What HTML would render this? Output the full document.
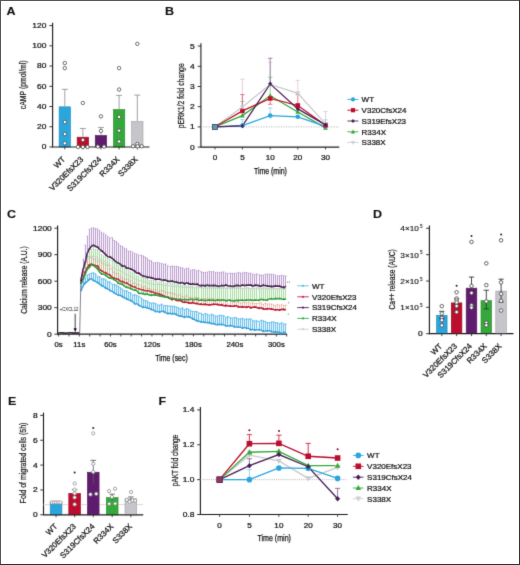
<!DOCTYPE html>
<html><head><meta charset="utf-8"><style>
html,body{margin:0;padding:0;background:#fff;}
#fig{position:relative;width:520px;height:565px;overflow:hidden;background:#fff;}
svg{position:absolute;left:0;top:0;}
text{font-family:"Liberation Sans", sans-serif;}
</style></head><body><div id="fig">
<svg width="520" height="565" viewBox="0 0 520 565">
<defs><filter id="bl" x="0" y="0" width="520" height="565" filterUnits="userSpaceOnUse"><feConvolveMatrix order="3" kernelMatrix="0.0113 0.0838 0.0113 0.0838 0.6193 0.0838 0.0113 0.0838 0.0113" divisor="1" edgeMode="duplicate" preserveAlpha="false"/></filter></defs>
<rect x="0" y="0" width="520" height="565" fill="#fff"/>
<g filter="url(#bl)">
<text x="6.6" y="15" font-size="11.2" text-anchor="start" font-weight="bold" fill="#111" stroke="#111" stroke-width="0.1" textLength="9.06" lengthAdjust="spacingAndGlyphs" >A</text>
<line x1="52.6" y1="22.8" x2="52.6" y2="147.5" stroke="#1e1e1e" stroke-width="1.1" />
<line x1="49.4" y1="147" x2="52.6" y2="147" stroke="#1e1e1e" stroke-width="0.9" />
<text x="46.4" y="149.4" font-size="7.8" text-anchor="end" font-weight="normal" fill="#111111" stroke="#111111" stroke-width="0.24" textLength="4.68" lengthAdjust="spacingAndGlyphs" >0</text>
<line x1="49.4" y1="126.77" x2="52.6" y2="126.77" stroke="#1e1e1e" stroke-width="0.9" />
<text x="46.4" y="129.17" font-size="7.8" text-anchor="end" font-weight="normal" fill="#111111" stroke="#111111" stroke-width="0.24" textLength="9.37" lengthAdjust="spacingAndGlyphs" >20</text>
<line x1="49.4" y1="106.53" x2="52.6" y2="106.53" stroke="#1e1e1e" stroke-width="0.9" />
<text x="46.4" y="108.93" font-size="7.8" text-anchor="end" font-weight="normal" fill="#111111" stroke="#111111" stroke-width="0.24" textLength="9.37" lengthAdjust="spacingAndGlyphs" >40</text>
<line x1="49.4" y1="86.3" x2="52.6" y2="86.3" stroke="#1e1e1e" stroke-width="0.9" />
<text x="46.4" y="88.7" font-size="7.8" text-anchor="end" font-weight="normal" fill="#111111" stroke="#111111" stroke-width="0.24" textLength="9.37" lengthAdjust="spacingAndGlyphs" >60</text>
<line x1="49.4" y1="66.07" x2="52.6" y2="66.07" stroke="#1e1e1e" stroke-width="0.9" />
<text x="46.4" y="68.47" font-size="7.8" text-anchor="end" font-weight="normal" fill="#111111" stroke="#111111" stroke-width="0.24" textLength="9.37" lengthAdjust="spacingAndGlyphs" >80</text>
<line x1="49.4" y1="45.83" x2="52.6" y2="45.83" stroke="#1e1e1e" stroke-width="0.9" />
<text x="46.4" y="48.23" font-size="7.8" text-anchor="end" font-weight="normal" fill="#111111" stroke="#111111" stroke-width="0.24" textLength="14.05" lengthAdjust="spacingAndGlyphs" >100</text>
<line x1="49.4" y1="25.6" x2="52.6" y2="25.6" stroke="#1e1e1e" stroke-width="0.9" />
<text x="46.4" y="28" font-size="7.8" text-anchor="end" font-weight="normal" fill="#111111" stroke="#111111" stroke-width="0.24" textLength="14.05" lengthAdjust="spacingAndGlyphs" >120</text>
<text transform="translate(26.3,84.8) rotate(-90)" font-size="9.3" text-anchor="middle" font-weight="normal" fill="#1c1c1c" stroke="#1c1c1c" stroke-width="0.24" textLength="48.8" lengthAdjust="spacingAndGlyphs" >cAMP (pmol/ml)</text>
<rect x="59.1" y="106.83" width="11.4" height="40.17" fill="#29a6dc" stroke="#2188b4" stroke-width="0.6"/>
<rect x="77.15" y="137.18" width="11.4" height="9.82" fill="#bb0a2e" stroke="#990825" stroke-width="0.6"/>
<rect x="95.25" y="135.46" width="11.4" height="11.54" fill="#5e1f6e" stroke="#4d195a" stroke-width="0.6"/>
<rect x="113.4" y="109.46" width="11.4" height="37.54" fill="#34a83a" stroke="#2a892f" stroke-width="0.6"/>
<rect x="131.6" y="121.4" width="11.4" height="25.6" fill="#c6c5cb" stroke="#a2a1a6" stroke-width="0.6"/>
<line x1="64.8" y1="106.53" x2="64.8" y2="89.33" stroke="#8a8a8a" stroke-width="0.8" />
<line x1="61.8" y1="89.33" x2="67.8" y2="89.33" stroke="#8a8a8a" stroke-width="0.8" />
<line x1="82.85" y1="136.88" x2="82.85" y2="128.49" stroke="#8a8a8a" stroke-width="0.8" />
<line x1="79.85" y1="128.49" x2="85.85" y2="128.49" stroke="#8a8a8a" stroke-width="0.8" />
<line x1="100.95" y1="135.16" x2="100.95" y2="127.47" stroke="#8a8a8a" stroke-width="0.8" />
<line x1="97.95" y1="127.47" x2="103.95" y2="127.47" stroke="#8a8a8a" stroke-width="0.8" />
<line x1="119.1" y1="109.16" x2="119.1" y2="95.41" stroke="#8a8a8a" stroke-width="0.8" />
<line x1="116.1" y1="95.41" x2="122.1" y2="95.41" stroke="#8a8a8a" stroke-width="0.8" />
<line x1="137.3" y1="121.1" x2="137.3" y2="95.1" stroke="#8a8a8a" stroke-width="0.8" />
<line x1="134.3" y1="95.1" x2="140.3" y2="95.1" stroke="#8a8a8a" stroke-width="0.8" />
<line x1="52.6" y1="147" x2="149.5" y2="147" stroke="#1e1e1e" stroke-width="1.2" />
<line x1="64.8" y1="147" x2="64.8" y2="149.4" stroke="#1e1e1e" stroke-width="0.8" />
<line x1="82.85" y1="147" x2="82.85" y2="149.4" stroke="#1e1e1e" stroke-width="0.8" />
<line x1="100.95" y1="147" x2="100.95" y2="149.4" stroke="#1e1e1e" stroke-width="0.8" />
<line x1="119.1" y1="147" x2="119.1" y2="149.4" stroke="#1e1e1e" stroke-width="0.8" />
<line x1="137.3" y1="147" x2="137.3" y2="149.4" stroke="#1e1e1e" stroke-width="0.8" />
<circle cx="64.8" cy="63.03" r="1.7" fill="#fff" stroke="#3a3a3a" stroke-width="0.8"/>
<circle cx="64.8" cy="68.09" r="1.7" fill="#fff" stroke="#3a3a3a" stroke-width="0.8"/>
<circle cx="64.8" cy="122.01" r="1.7" fill="#fff" stroke="#3a3a3a" stroke-width="0.8"/>
<circle cx="64.8" cy="134.05" r="1.7" fill="#fff" stroke="#3a3a3a" stroke-width="0.8"/>
<circle cx="64.8" cy="143.26" r="1.7" fill="#fff" stroke="#3a3a3a" stroke-width="0.8"/>
<circle cx="82.85" cy="102.99" r="1.7" fill="#fff" stroke="#3a3a3a" stroke-width="0.8"/>
<circle cx="82.85" cy="139.92" r="1.7" fill="#fff" stroke="#3a3a3a" stroke-width="0.8"/>
<circle cx="78.05" cy="147" r="1.7" fill="#fff" stroke="#3a3a3a" stroke-width="0.8"/>
<circle cx="82.85" cy="147" r="1.7" fill="#fff" stroke="#3a3a3a" stroke-width="0.8"/>
<circle cx="87.45" cy="147" r="1.7" fill="#fff" stroke="#3a3a3a" stroke-width="0.8"/>
<circle cx="100.95" cy="116.35" r="1.7" fill="#fff" stroke="#3a3a3a" stroke-width="0.8"/>
<circle cx="100.95" cy="130.91" r="1.7" fill="#fff" stroke="#3a3a3a" stroke-width="0.8"/>
<circle cx="97.85" cy="146.6" r="1.7" fill="#fff" stroke="#3a3a3a" stroke-width="0.8"/>
<circle cx="104.05" cy="146.6" r="1.7" fill="#fff" stroke="#3a3a3a" stroke-width="0.8"/>
<circle cx="119.1" cy="68.09" r="1.7" fill="#fff" stroke="#3a3a3a" stroke-width="0.8"/>
<circle cx="119.1" cy="89.54" r="1.7" fill="#fff" stroke="#3a3a3a" stroke-width="0.8"/>
<circle cx="119.1" cy="116.85" r="1.7" fill="#fff" stroke="#3a3a3a" stroke-width="0.8"/>
<circle cx="119.1" cy="130.61" r="1.7" fill="#fff" stroke="#3a3a3a" stroke-width="0.8"/>
<circle cx="119.1" cy="141.44" r="1.7" fill="#fff" stroke="#3a3a3a" stroke-width="0.8"/>
<circle cx="137.3" cy="43.81" r="1.7" fill="#fff" stroke="#3a3a3a" stroke-width="0.8"/>
<circle cx="137.3" cy="143.97" r="1.7" fill="#fff" stroke="#3a3a3a" stroke-width="0.8"/>
<circle cx="133.1" cy="146.29" r="1.7" fill="#fff" stroke="#3a3a3a" stroke-width="0.8"/>
<circle cx="137.6" cy="146.29" r="1.7" fill="#fff" stroke="#3a3a3a" stroke-width="0.8"/>
<circle cx="141.7" cy="146.29" r="1.7" fill="#fff" stroke="#3a3a3a" stroke-width="0.8"/>
<text transform="translate(65.8,159.9) rotate(-45)" font-size="8.0" text-anchor="end" font-weight="normal" fill="#111111" stroke="#111111" stroke-width="0.24" >WT</text>
<text transform="translate(83.85,159.9) rotate(-45)" font-size="8.0" text-anchor="end" font-weight="normal" fill="#111111" stroke="#111111" stroke-width="0.24" >V320EfsX23</text>
<text transform="translate(101.95,159.9) rotate(-45)" font-size="8.0" text-anchor="end" font-weight="normal" fill="#111111" stroke="#111111" stroke-width="0.24" >S319CfsX24</text>
<text transform="translate(120.1,159.9) rotate(-45)" font-size="8.0" text-anchor="end" font-weight="normal" fill="#111111" stroke="#111111" stroke-width="0.24" >R334X</text>
<text transform="translate(138.3,159.9) rotate(-45)" font-size="8.0" text-anchor="end" font-weight="normal" fill="#111111" stroke="#111111" stroke-width="0.24" >S338X</text>
<text x="165" y="15.4" font-size="11.2" text-anchor="start" font-weight="bold" fill="#111" stroke="#111" stroke-width="0.1" textLength="9.06" lengthAdjust="spacingAndGlyphs" >B</text>
<line x1="200.9" y1="43.3" x2="200.9" y2="147.6" stroke="#1e1e1e" stroke-width="1.1" />
<line x1="197.7" y1="147.1" x2="200.9" y2="147.1" stroke="#1e1e1e" stroke-width="0.9" />
<text x="194.8" y="149.5" font-size="7.8" text-anchor="end" font-weight="normal" fill="#111111" stroke="#111111" stroke-width="0.24" textLength="4.68" lengthAdjust="spacingAndGlyphs" >0</text>
<line x1="197.7" y1="126.9" x2="200.9" y2="126.9" stroke="#1e1e1e" stroke-width="0.9" />
<text x="194.8" y="129.3" font-size="7.8" text-anchor="end" font-weight="normal" fill="#111111" stroke="#111111" stroke-width="0.24" textLength="4.68" lengthAdjust="spacingAndGlyphs" >1</text>
<line x1="197.7" y1="106.7" x2="200.9" y2="106.7" stroke="#1e1e1e" stroke-width="0.9" />
<text x="194.8" y="109.1" font-size="7.8" text-anchor="end" font-weight="normal" fill="#111111" stroke="#111111" stroke-width="0.24" textLength="4.68" lengthAdjust="spacingAndGlyphs" >2</text>
<line x1="197.7" y1="86.5" x2="200.9" y2="86.5" stroke="#1e1e1e" stroke-width="0.9" />
<text x="194.8" y="88.9" font-size="7.8" text-anchor="end" font-weight="normal" fill="#111111" stroke="#111111" stroke-width="0.24" textLength="4.68" lengthAdjust="spacingAndGlyphs" >3</text>
<line x1="197.7" y1="66.3" x2="200.9" y2="66.3" stroke="#1e1e1e" stroke-width="0.9" />
<text x="194.8" y="68.7" font-size="7.8" text-anchor="end" font-weight="normal" fill="#111111" stroke="#111111" stroke-width="0.24" textLength="4.68" lengthAdjust="spacingAndGlyphs" >4</text>
<line x1="197.7" y1="46.1" x2="200.9" y2="46.1" stroke="#1e1e1e" stroke-width="0.9" />
<text x="194.8" y="48.5" font-size="7.8" text-anchor="end" font-weight="normal" fill="#111111" stroke="#111111" stroke-width="0.24" textLength="4.68" lengthAdjust="spacingAndGlyphs" >5</text>
<text transform="translate(184.3,95.75) rotate(-90)" font-size="9.2" text-anchor="middle" font-weight="normal" fill="#1c1c1c" stroke="#1c1c1c" stroke-width="0.24" textLength="65" lengthAdjust="spacingAndGlyphs" >pERK1/2 fold change</text>
<line x1="200.9" y1="126.9" x2="339" y2="126.9" stroke="#9a9a9a" stroke-width="0.7" stroke-dasharray="1.2,1.3"/>
<line x1="200.9" y1="147.1" x2="339.2" y2="147.1" stroke="#1e1e1e" stroke-width="1.2" />
<line x1="215" y1="147.1" x2="215" y2="149.5" stroke="#1e1e1e" stroke-width="0.8" />
<text x="215" y="160.2" font-size="7.8" text-anchor="middle" font-weight="normal" fill="#111111" stroke="#111111" stroke-width="0.24" textLength="4.51" lengthAdjust="spacingAndGlyphs" >0</text>
<line x1="242.4" y1="147.1" x2="242.4" y2="149.5" stroke="#1e1e1e" stroke-width="0.8" />
<text x="242.4" y="160.2" font-size="7.8" text-anchor="middle" font-weight="normal" fill="#111111" stroke="#111111" stroke-width="0.24" textLength="4.51" lengthAdjust="spacingAndGlyphs" >5</text>
<line x1="270.2" y1="147.1" x2="270.2" y2="149.5" stroke="#1e1e1e" stroke-width="0.8" />
<text x="270.2" y="160.2" font-size="7.8" text-anchor="middle" font-weight="normal" fill="#111111" stroke="#111111" stroke-width="0.24" textLength="9.02" lengthAdjust="spacingAndGlyphs" >10</text>
<line x1="297.8" y1="147.1" x2="297.8" y2="149.5" stroke="#1e1e1e" stroke-width="0.8" />
<text x="297.8" y="160.2" font-size="7.8" text-anchor="middle" font-weight="normal" fill="#111111" stroke="#111111" stroke-width="0.24" textLength="9.02" lengthAdjust="spacingAndGlyphs" >20</text>
<line x1="325.5" y1="147.1" x2="325.5" y2="149.5" stroke="#1e1e1e" stroke-width="0.8" />
<text x="325.5" y="160.2" font-size="7.8" text-anchor="middle" font-weight="normal" fill="#111111" stroke="#111111" stroke-width="0.24" textLength="9.02" lengthAdjust="spacingAndGlyphs" >30</text>
<text x="270.4" y="173.5" font-size="9.0" text-anchor="middle" font-weight="normal" fill="#111111" stroke="#111111" stroke-width="0.25" textLength="33" lengthAdjust="spacingAndGlyphs" >Time (min)</text>
<line x1="242.4" y1="107.1" x2="242.4" y2="79.23" stroke="#d9c9cf" stroke-width="0.8" />
<line x1="240.2" y1="79.23" x2="244.6" y2="79.23" stroke="#d9c9cf" stroke-width="0.8" />
<line x1="270.2" y1="84.48" x2="270.2" y2="62.26" stroke="#d9c9cf" stroke-width="0.8" />
<line x1="268" y1="62.26" x2="272.4" y2="62.26" stroke="#d9c9cf" stroke-width="0.8" />
<line x1="297.8" y1="93.37" x2="297.8" y2="80.44" stroke="#d9c9cf" stroke-width="0.8" />
<line x1="295.6" y1="80.44" x2="300" y2="80.44" stroke="#d9c9cf" stroke-width="0.8" />
<line x1="325.5" y1="123.87" x2="325.5" y2="111.55" stroke="#d9c9cf" stroke-width="0.8" />
<line x1="323.3" y1="111.55" x2="327.7" y2="111.55" stroke="#d9c9cf" stroke-width="0.8" />
<line x1="242.4" y1="115.59" x2="242.4" y2="101.45" stroke="#7ccc7c" stroke-width="0.8" />
<line x1="240.2" y1="101.45" x2="244.6" y2="101.45" stroke="#7ccc7c" stroke-width="0.8" />
<line x1="270.2" y1="95.79" x2="270.2" y2="77.21" stroke="#7ccc7c" stroke-width="0.8" />
<line x1="268" y1="77.21" x2="272.4" y2="77.21" stroke="#7ccc7c" stroke-width="0.8" />
<line x1="242.4" y1="125.49" x2="242.4" y2="119.63" stroke="#8fd0ee" stroke-width="0.8" />
<line x1="240.2" y1="119.63" x2="244.6" y2="119.63" stroke="#8fd0ee" stroke-width="0.8" />
<line x1="270.2" y1="115.59" x2="270.2" y2="107.91" stroke="#8fd0ee" stroke-width="0.8" />
<line x1="268" y1="107.91" x2="272.4" y2="107.91" stroke="#8fd0ee" stroke-width="0.8" />
<line x1="325.5" y1="126.29" x2="325.5" y2="119.83" stroke="#8fd0ee" stroke-width="0.8" />
<line x1="323.3" y1="119.83" x2="327.7" y2="119.83" stroke="#8fd0ee" stroke-width="0.8" />
<line x1="242.4" y1="110.94" x2="242.4" y2="94.58" stroke="#d9566f" stroke-width="0.8" />
<line x1="240.2" y1="94.58" x2="244.6" y2="94.58" stroke="#d9566f" stroke-width="0.8" />
<line x1="270.2" y1="98.42" x2="270.2" y2="104.28" stroke="#d9566f" stroke-width="0.8" />
<line x1="268" y1="104.28" x2="272.4" y2="104.28" stroke="#d9566f" stroke-width="0.8" />
<line x1="297.8" y1="105.49" x2="297.8" y2="94.58" stroke="#d9566f" stroke-width="0.8" />
<line x1="295.6" y1="94.58" x2="300" y2="94.58" stroke="#d9566f" stroke-width="0.8" />
<line x1="270.2" y1="83.87" x2="270.2" y2="58.22" stroke="#8a6a94" stroke-width="0.8" />
<line x1="268" y1="58.22" x2="272.4" y2="58.22" stroke="#8a6a94" stroke-width="0.8" />
<polyline points="215,126.9 242.4,107.1 270.2,84.48 297.8,93.37 325.5,123.87" fill="none" stroke="#c9c9cf" stroke-width="1.3"/>
<polyline points="215,126.9 242.4,115.59 270.2,95.79 297.8,111.95 325.5,127.91" fill="none" stroke="#34a83a" stroke-width="1.3"/>
<polyline points="215,126.9 242.4,125.49 270.2,115.59 297.8,116.8 325.5,126.29" fill="none" stroke="#29a6dc" stroke-width="1.3"/>
<polyline points="215,126.9 242.4,110.94 270.2,98.42 297.8,105.49 325.5,125.28" fill="none" stroke="#bb0a2e" stroke-width="1.3"/>
<polyline points="215,126.9 242.4,125.89 270.2,83.87 297.8,108.92 325.5,124.88" fill="none" stroke="#4d1f58" stroke-width="1.3"/>
<polygon points="215,129.42 217.4,125.1 212.6,125.1" fill="#c9c9cf"/>
<polygon points="242.4,109.62 244.8,105.3 240,105.3" fill="#c9c9cf"/>
<polygon points="270.2,87 272.6,82.68 267.8,82.68" fill="#c9c9cf"/>
<polygon points="297.8,95.89 300.2,91.57 295.4,91.57" fill="#c9c9cf"/>
<polygon points="325.5,126.39 327.9,122.07 323.1,122.07" fill="#c9c9cf"/>
<polygon points="215,124.38 217.4,128.7 212.6,128.7" fill="#34a83a"/>
<polygon points="242.4,113.07 244.8,117.39 240,117.39" fill="#34a83a"/>
<polygon points="270.2,93.27 272.6,97.59 267.8,97.59" fill="#34a83a"/>
<polygon points="297.8,109.43 300.2,113.75 295.4,113.75" fill="#34a83a"/>
<polygon points="325.5,125.39 327.9,129.71 323.1,129.71" fill="#34a83a"/>
<circle cx="215" cy="126.9" r="2.3" fill="#29a6dc"/>
<circle cx="242.4" cy="125.49" r="2.3" fill="#29a6dc"/>
<circle cx="270.2" cy="115.59" r="2.3" fill="#29a6dc"/>
<circle cx="297.8" cy="116.8" r="2.3" fill="#29a6dc"/>
<circle cx="325.5" cy="126.29" r="2.3" fill="#29a6dc"/>
<rect x="212.7" y="124.6" width="4.6" height="4.6" fill="#bb0a2e"/>
<rect x="240.1" y="108.64" width="4.6" height="4.6" fill="#bb0a2e"/>
<rect x="267.9" y="96.12" width="4.6" height="4.6" fill="#bb0a2e"/>
<rect x="295.5" y="103.19" width="4.6" height="4.6" fill="#bb0a2e"/>
<rect x="323.2" y="122.98" width="4.6" height="4.6" fill="#bb0a2e"/>
<polygon points="215,124.6 217.07,126.9 215,129.2 212.93,126.9" fill="#4d1f58"/>
<polygon points="242.4,123.59 244.47,125.89 242.4,128.19 240.33,125.89" fill="#4d1f58"/>
<polygon points="270.2,81.57 272.27,83.87 270.2,86.17 268.13,83.87" fill="#4d1f58"/>
<polygon points="297.8,106.62 299.87,108.92 297.8,111.22 295.73,108.92" fill="#4d1f58"/>
<polygon points="325.5,122.58 327.57,124.88 325.5,127.18 323.43,124.88" fill="#4d1f58"/>
<rect x="212.4" y="124.4" width="5.2" height="5" fill="#5a9ab4" stroke="#3b3f5e" stroke-width="0.8"/>
<line x1="347.4" y1="99.4" x2="358.4" y2="99.4" stroke="#29a6dc" stroke-width="0.9" />
<circle cx="353" cy="99.4" r="2.1" fill="#29a6dc"/>
<text x="361.6" y="102.2" font-size="8.0" text-anchor="start" font-weight="normal" fill="#111111" stroke="#111111" stroke-width="0.24" >WT</text>
<line x1="347.4" y1="110.2" x2="358.4" y2="110.2" stroke="#bb0a2e" stroke-width="0.9" />
<rect x="350.9" y="108.1" width="4.2" height="4.2" fill="#bb0a2e"/>
<text x="361.6" y="113" font-size="8.0" text-anchor="start" font-weight="normal" fill="#111111" stroke="#111111" stroke-width="0.24" >V320CfsX24</text>
<line x1="347.4" y1="121" x2="358.4" y2="121" stroke="#4d1f58" stroke-width="0.9" />
<polygon points="353,118.9 354.89,121 353,123.1 351.11,121" fill="#4d1f58"/>
<text x="361.6" y="123.8" font-size="8.0" text-anchor="start" font-weight="normal" fill="#111111" stroke="#111111" stroke-width="0.24" >S319EfsX23</text>
<line x1="347.4" y1="131.8" x2="358.4" y2="131.8" stroke="#34a83a" stroke-width="0.9" />
<polygon points="353,129.59 355.1,133.38 350.9,133.38" fill="#34a83a"/>
<text x="361.6" y="134.6" font-size="8.0" text-anchor="start" font-weight="normal" fill="#111111" stroke="#111111" stroke-width="0.24" >R334X</text>
<line x1="347.4" y1="142.5" x2="358.4" y2="142.5" stroke="#cfcfd4" stroke-width="0.9" />
<polygon points="353,144.71 355.1,140.93 350.9,140.93" fill="#cfcfd4"/>
<text x="361.6" y="145.3" font-size="8.0" text-anchor="start" font-weight="normal" fill="#111111" stroke="#111111" stroke-width="0.24" >S338X</text>
<text x="6.9" y="218" font-size="11.2" text-anchor="start" font-weight="bold" fill="#111" stroke="#111" stroke-width="0.1" textLength="9.06" lengthAdjust="spacingAndGlyphs" >C</text>
<line x1="57.6" y1="225.4" x2="57.6" y2="334.7" stroke="#1e1e1e" stroke-width="1.1" />
<line x1="54.4" y1="334.2" x2="57.6" y2="334.2" stroke="#1e1e1e" stroke-width="0.9" />
<text x="51.8" y="336.6" font-size="7.8" text-anchor="end" font-weight="normal" fill="#111111" stroke="#111111" stroke-width="0.24" textLength="4.68" lengthAdjust="spacingAndGlyphs" >0</text>
<line x1="54.4" y1="307.7" x2="57.6" y2="307.7" stroke="#1e1e1e" stroke-width="0.9" />
<text x="51.8" y="310.1" font-size="7.8" text-anchor="end" font-weight="normal" fill="#111111" stroke="#111111" stroke-width="0.24" textLength="14.05" lengthAdjust="spacingAndGlyphs" >300</text>
<line x1="54.4" y1="281.2" x2="57.6" y2="281.2" stroke="#1e1e1e" stroke-width="0.9" />
<text x="51.8" y="283.6" font-size="7.8" text-anchor="end" font-weight="normal" fill="#111111" stroke="#111111" stroke-width="0.24" textLength="14.05" lengthAdjust="spacingAndGlyphs" >600</text>
<line x1="54.4" y1="254.7" x2="57.6" y2="254.7" stroke="#1e1e1e" stroke-width="0.9" />
<text x="51.8" y="257.1" font-size="7.8" text-anchor="end" font-weight="normal" fill="#111111" stroke="#111111" stroke-width="0.24" textLength="14.05" lengthAdjust="spacingAndGlyphs" >900</text>
<line x1="54.4" y1="228.2" x2="57.6" y2="228.2" stroke="#1e1e1e" stroke-width="0.9" />
<text x="51.8" y="230.6" font-size="7.8" text-anchor="end" font-weight="normal" fill="#111111" stroke="#111111" stroke-width="0.24" textLength="18.74" lengthAdjust="spacingAndGlyphs" >1200</text>
<text transform="translate(26.9,280) rotate(-90)" font-size="9.2" text-anchor="middle" font-weight="normal" fill="#1c1c1c" stroke="#1c1c1c" stroke-width="0.24" textLength="67.6" lengthAdjust="spacingAndGlyphs" >Calcium release (A.U.)</text>
<line x1="57.6" y1="334.2" x2="287" y2="334.2" stroke="#1e1e1e" stroke-width="1.2" />
<line x1="58.6" y1="334.2" x2="58.6" y2="336.5" stroke="#1e1e1e" stroke-width="0.8" />
<line x1="68.97" y1="334.2" x2="68.97" y2="336.5" stroke="#1e1e1e" stroke-width="0.8" />
<line x1="79.34" y1="334.2" x2="79.34" y2="336.5" stroke="#1e1e1e" stroke-width="0.8" />
<line x1="89.71" y1="334.2" x2="89.71" y2="336.5" stroke="#1e1e1e" stroke-width="0.8" />
<line x1="100.08" y1="334.2" x2="100.08" y2="336.5" stroke="#1e1e1e" stroke-width="0.8" />
<line x1="110.45" y1="334.2" x2="110.45" y2="336.5" stroke="#1e1e1e" stroke-width="0.8" />
<line x1="120.82" y1="334.2" x2="120.82" y2="336.5" stroke="#1e1e1e" stroke-width="0.8" />
<line x1="131.19" y1="334.2" x2="131.19" y2="336.5" stroke="#1e1e1e" stroke-width="0.8" />
<line x1="141.56" y1="334.2" x2="141.56" y2="336.5" stroke="#1e1e1e" stroke-width="0.8" />
<line x1="151.93" y1="334.2" x2="151.93" y2="336.5" stroke="#1e1e1e" stroke-width="0.8" />
<line x1="162.3" y1="334.2" x2="162.3" y2="336.5" stroke="#1e1e1e" stroke-width="0.8" />
<line x1="172.67" y1="334.2" x2="172.67" y2="336.5" stroke="#1e1e1e" stroke-width="0.8" />
<line x1="183.04" y1="334.2" x2="183.04" y2="336.5" stroke="#1e1e1e" stroke-width="0.8" />
<line x1="193.41" y1="334.2" x2="193.41" y2="336.5" stroke="#1e1e1e" stroke-width="0.8" />
<line x1="203.78" y1="334.2" x2="203.78" y2="336.5" stroke="#1e1e1e" stroke-width="0.8" />
<line x1="214.15" y1="334.2" x2="214.15" y2="336.5" stroke="#1e1e1e" stroke-width="0.8" />
<line x1="224.52" y1="334.2" x2="224.52" y2="336.5" stroke="#1e1e1e" stroke-width="0.8" />
<line x1="234.89" y1="334.2" x2="234.89" y2="336.5" stroke="#1e1e1e" stroke-width="0.8" />
<line x1="245.26" y1="334.2" x2="245.26" y2="336.5" stroke="#1e1e1e" stroke-width="0.8" />
<line x1="255.63" y1="334.2" x2="255.63" y2="336.5" stroke="#1e1e1e" stroke-width="0.8" />
<line x1="266" y1="334.2" x2="266" y2="336.5" stroke="#1e1e1e" stroke-width="0.8" />
<line x1="276.37" y1="334.2" x2="276.37" y2="336.5" stroke="#1e1e1e" stroke-width="0.8" />
<line x1="286.74" y1="334.2" x2="286.74" y2="336.5" stroke="#1e1e1e" stroke-width="0.8" />
<text x="58.6" y="347.3" font-size="7.8" text-anchor="middle" font-weight="normal" fill="#111111" stroke="#111111" stroke-width="0.24" textLength="8.24" lengthAdjust="spacingAndGlyphs" >0s</text>
<text x="79.34" y="347.3" font-size="7.8" text-anchor="middle" font-weight="normal" fill="#111111" stroke="#111111" stroke-width="0.24" textLength="12" lengthAdjust="spacingAndGlyphs" >11s</text>
<text x="110.45" y="347.3" font-size="7.8" text-anchor="middle" font-weight="normal" fill="#111111" stroke="#111111" stroke-width="0.24" textLength="12.58" lengthAdjust="spacingAndGlyphs" >60s</text>
<text x="151.93" y="347.3" font-size="7.8" text-anchor="middle" font-weight="normal" fill="#111111" stroke="#111111" stroke-width="0.24" textLength="16.91" lengthAdjust="spacingAndGlyphs" >120s</text>
<text x="193.41" y="347.3" font-size="7.8" text-anchor="middle" font-weight="normal" fill="#111111" stroke="#111111" stroke-width="0.24" textLength="16.91" lengthAdjust="spacingAndGlyphs" >180s</text>
<text x="234.89" y="347.3" font-size="7.8" text-anchor="middle" font-weight="normal" fill="#111111" stroke="#111111" stroke-width="0.24" textLength="16.91" lengthAdjust="spacingAndGlyphs" >240s</text>
<text x="276.37" y="347.3" font-size="7.8" text-anchor="middle" font-weight="normal" fill="#111111" stroke="#111111" stroke-width="0.24" textLength="16.91" lengthAdjust="spacingAndGlyphs" >300s</text>
<text x="171.5" y="360.7" font-size="9.0" text-anchor="middle" font-weight="normal" fill="#111111" stroke="#111111" stroke-width="0.25" textLength="32.5" lengthAdjust="spacingAndGlyphs" >Time (sec)</text>
<polygon points="81,282.42 83.07,259.33 85.14,245.15 87.21,236.19 89.28,229.35 91.35,228.21 93.42,227.77 95.49,228.59 97.56,228.87 99.63,230.58 101.7,232.34 103.77,233.22 105.84,234.76 107.91,236.46 109.98,237.84 112.05,237.82 114.12,240.38 116.19,241.35 118.26,243.33 120.33,245.64 122.4,246.54 124.47,248.12 126.54,248.93 128.61,251.09 130.68,251.08 132.75,252.11 134.82,253.39 136.89,254.09 138.96,255.11 141.03,255.29 143.1,255.89 145.17,257.06 147.24,258.37 149.31,260.25 151.38,260.77 153.45,262.75 155.52,262.73 157.59,262.34 159.66,262.98 161.73,263.59 163.8,264.06 165.87,264.07 167.94,265.82 170.01,266.52 172.08,266.01 174.15,266.49 176.22,266.22 178.29,266.69 180.36,267.57 182.43,267.81 184.5,269.11 186.57,268.19 188.64,268.23 190.71,270.19 192.78,269.77 194.85,269.59 196.92,270.82 198.99,270.4 201.06,271.59 203.13,272.48 205.2,272.35 207.27,272.13 209.34,271.42 211.41,271.69 213.48,271.41 215.55,272.57 217.62,272.22 219.69,272.74 221.76,272.01 223.83,271.9 225.9,273.03 227.97,273.42 230.04,273.26 232.11,273.26 234.18,273.35 236.25,273.29 238.32,272.45 240.39,273.05 242.46,272.87 244.53,272.4 246.6,272.51 248.67,273.07 250.74,273.15 252.81,274.04 254.88,274.63 256.95,273.83 259.02,274.82 261.09,275.02 263.16,275.08 265.23,274.13 267.3,273.98 269.37,274.1 271.44,274.16 273.51,274.29 275.58,275.16 277.65,275.77 279.72,275.77 281.79,275.23 283.86,275.66 285.93,276.04 285.93,286.24 283.86,287.4 281.79,287.15 279.72,286.18 277.65,286.14 275.58,285.79 273.51,286.6 271.44,286.4 269.37,286.41 267.3,285.88 265.23,285.72 263.16,285.13 261.09,286.39 259.02,285.63 256.95,285.4 254.88,285.21 252.81,286.23 250.74,285.09 248.67,285.18 246.6,285.25 244.53,285.7 242.46,284.99 240.39,286.01 238.32,285.54 236.25,285.36 234.18,286.21 232.11,286.47 230.04,285.9 227.97,285.98 225.9,284.94 223.83,285.89 221.76,285.57 219.69,286.31 217.62,286.1 215.55,285.44 213.48,285.6 211.41,285.58 209.34,285.7 207.27,285.05 205.2,285.9 203.13,285.38 201.06,285.64 198.99,285.34 196.92,284.06 194.85,284.51 192.78,283.71 190.71,284.39 188.64,283.56 186.57,282.79 184.5,283.88 182.43,282.49 180.36,282.91 178.29,282.85 176.22,282 174.15,281.79 172.08,280.97 170.01,281.4 167.94,281.25 165.87,280.15 163.8,280.09 161.73,279.99 159.66,279.26 157.59,279.2 155.52,279.35 153.45,278.35 151.38,277.86 149.31,277.28 147.24,277.34 145.17,276.35 143.1,276.06 141.03,274.92 138.96,273.22 136.89,273.17 134.82,271.31 132.75,269.98 130.68,269 128.61,268.21 126.54,268.09 124.47,265.74 122.4,266.18 120.33,264.2 118.26,262.96 116.19,261.93 114.12,260.06 112.05,258.2 109.98,256.83 107.91,256.74 105.84,254.72 103.77,252.59 101.7,250.91 99.63,249.42 97.56,247.06 95.49,246.41 93.42,245.28 91.35,246.17 89.28,249.22 87.21,253.49 85.14,262.74 83.07,269.45 81,280.72" fill="#f8f3fa" stroke="none"/>
<path d="M81.5 280.72V282.42M83.5 269.45V259.33M85.5 262.74V245.15M87.5 253.49V236.19M89.5 249.22V229.35M91.5 246.17V228.21M93.5 245.28V227.77M95.5 246.41V228.59M97.5 247.06V228.87M99.5 249.42V230.58M101.5 250.91V232.34M103.5 252.59V233.22M105.5 254.72V234.76M107.5 256.74V236.46M109.5 256.83V237.84M112.5 258.2V237.82M114.5 260.06V240.38M116.5 261.93V241.35M118.5 262.96V243.33M120.5 264.2V245.64M122.5 266.18V246.54M124.5 265.74V248.12M126.5 268.09V248.93M128.5 268.21V251.09M130.5 269V251.08M132.5 269.98V252.11M134.5 271.31V253.39M136.5 273.17V254.09M138.5 273.22V255.11M141.5 274.92V255.29M143.5 276.06V255.89M145.5 276.35V257.06M147.5 277.34V258.37M149.5 277.28V260.25M151.5 277.86V260.77M153.5 278.35V262.75M155.5 279.35V262.73M157.5 279.2V262.34M159.5 279.26V262.98M161.5 279.99V263.59M163.5 280.09V264.06M165.5 280.15V264.07M167.5 281.25V265.82M170.5 281.4V266.52M172.5 280.97V266.01M174.5 281.79V266.49M176.5 282V266.22M178.5 282.85V266.69M180.5 282.91V267.57M182.5 282.49V267.81M184.5 283.88V269.11M186.5 282.79V268.19M188.5 283.56V268.23M190.5 284.39V270.19M192.5 283.71V269.77M194.5 284.51V269.59M196.5 284.06V270.82M198.5 285.34V270.4M201.5 285.64V271.59M203.5 285.38V272.48M205.5 285.9V272.35M207.5 285.05V272.13M209.5 285.7V271.42M211.5 285.58V271.69M213.5 285.6V271.41M215.5 285.44V272.57M217.5 286.1V272.22M219.5 286.31V272.74M221.5 285.57V272.01M223.5 285.89V271.9M225.5 284.94V273.03M227.5 285.98V273.42M230.5 285.9V273.26M232.5 286.47V273.26M234.5 286.21V273.35M236.5 285.36V273.29M238.5 285.54V272.45M240.5 286.01V273.05M242.5 284.99V272.87M244.5 285.7V272.4M246.5 285.25V272.51M248.5 285.18V273.07M250.5 285.09V273.15M252.5 286.23V274.04M254.5 285.21V274.63M256.5 285.4V273.83M259.5 285.63V274.82M261.5 286.39V275.02M263.5 285.13V275.08M265.5 285.72V274.13M267.5 285.88V273.98M269.5 286.41V274.1M271.5 286.4V274.16M273.5 286.6V274.29M275.5 285.79V275.16M277.5 286.14V275.77M279.5 286.18V275.77M281.5 287.15V275.23M283.5 287.4V275.66M285.5 286.24V276.04" stroke="#b996cd" stroke-width="0.95" fill="none"/>
<path d="M80.2 282.42H81.8M82.27 259.33H83.87M84.34 245.15H85.94M86.41 236.19H88.01M88.48 229.35H90.08M90.55 228.21H92.15M92.62 227.77H94.22M94.69 228.59H96.29M96.76 228.87H98.36M98.83 230.58H100.43M100.9 232.34H102.5M102.97 233.22H104.57M105.04 234.76H106.64M107.11 236.46H108.71M109.18 237.84H110.78M111.25 237.82H112.85M113.32 240.38H114.92M115.39 241.35H116.99M117.46 243.33H119.06M119.53 245.64H121.13M121.6 246.54H123.2M123.67 248.12H125.27M125.74 248.93H127.34M127.81 251.09H129.41M129.88 251.08H131.48M131.95 252.11H133.55M134.02 253.39H135.62M136.09 254.09H137.69M138.16 255.11H139.76M140.23 255.29H141.83M142.3 255.89H143.9M144.37 257.06H145.97M146.44 258.37H148.04M148.51 260.25H150.11M150.58 260.77H152.18M152.65 262.75H154.25M154.72 262.73H156.32M156.79 262.34H158.39M158.86 262.98H160.46M160.93 263.59H162.53M163 264.06H164.6M165.07 264.07H166.67M167.14 265.82H168.74M169.21 266.52H170.81M171.28 266.01H172.88M173.35 266.49H174.95M175.42 266.22H177.02M177.49 266.69H179.09M179.56 267.57H181.16M181.63 267.81H183.23M183.7 269.11H185.3M185.77 268.19H187.37M187.84 268.23H189.44M189.91 270.19H191.51M191.98 269.77H193.58M194.05 269.59H195.65M196.12 270.82H197.72M198.19 270.4H199.79M200.26 271.59H201.86M202.33 272.48H203.93M204.4 272.35H206M206.47 272.13H208.07M208.54 271.42H210.14M210.61 271.69H212.21M212.68 271.41H214.28M214.75 272.57H216.35M216.82 272.22H218.42M218.89 272.74H220.49M220.96 272.01H222.56M223.03 271.9H224.63M225.1 273.03H226.7M227.17 273.42H228.77M229.24 273.26H230.84M231.31 273.26H232.91M233.38 273.35H234.98M235.45 273.29H237.05M237.52 272.45H239.12M239.59 273.05H241.19M241.66 272.87H243.26M243.73 272.4H245.33M245.8 272.51H247.4M247.87 273.07H249.47M249.94 273.15H251.54M252.01 274.04H253.61M254.08 274.63H255.68M256.15 273.83H257.75M258.22 274.82H259.82M260.29 275.02H261.89M262.36 275.08H263.96M264.43 274.13H266.03M266.5 273.98H268.1M268.57 274.1H270.17M270.64 274.16H272.24M272.71 274.29H274.31M274.78 275.16H276.38M276.85 275.77H278.45M278.92 275.77H280.52M280.99 275.23H282.59M283.06 275.66H284.66M285.13 276.04H286.73" stroke="#ad86c3" stroke-width="0.7" fill="none"/>
<polygon points="81,282.38 83.07,272.4 85.14,264.79 87.21,255.53 89.28,251.85 91.35,249.22 93.42,247.49 95.49,249.21 97.56,249.61 99.63,251.51 101.7,254.48 103.77,255.84 105.84,256.23 107.91,258.09 109.98,259.46 112.05,260.36 114.12,261.31 116.19,262.89 118.26,265.24 120.33,265.5 122.4,267.51 124.47,268.36 126.54,268.65 128.61,270.25 130.68,271.79 132.75,272.61 134.82,272.83 136.89,275.54 138.96,276.25 141.03,277.64 143.1,277.12 145.17,278.13 147.24,278.44 149.31,280.49 151.38,280.16 153.45,280.15 155.52,280.92 157.59,282.05 159.66,282.13 161.73,281.42 163.8,281.53 165.87,283.22 167.94,282.9 170.01,283.44 172.08,282.64 174.15,282.87 176.22,284.3 178.29,284.12 180.36,283.77 182.43,285.62 184.5,285.36 186.57,285.95 188.64,284.94 190.71,286.62 192.78,285.48 194.85,287.18 196.92,286.72 198.99,286.78 201.06,287.32 203.13,288.03 205.2,286.89 207.27,286.68 209.34,287.44 211.41,286.96 213.48,286.77 215.55,286.9 217.62,286.74 219.69,287.06 221.76,287.27 223.83,287.27 225.9,288.11 227.97,287.28 230.04,287.67 232.11,287.1 234.18,287.42 236.25,286.84 238.32,287.27 240.39,286.86 242.46,288.17 244.53,287.86 246.6,287.22 248.67,287.75 250.74,288.58 252.81,287.09 254.88,288.37 256.95,287.68 259.02,287.79 261.09,288.4 263.16,287.61 265.23,287.81 267.3,288.14 269.37,288.67 271.44,287.61 273.51,288.62 275.58,288.52 277.65,288.52 279.72,288.24 281.79,288.26 283.86,287.86 285.93,288.13 285.93,299.36 283.86,299.27 281.79,299.17 279.72,298.41 277.65,298.71 275.58,298.54 273.51,299.13 271.44,298.75 269.37,298.83 267.3,299.89 265.23,300.1 263.16,299.63 261.09,299.28 259.02,300.3 256.95,300.27 254.88,300.09 252.81,300.5 250.74,299.92 248.67,300.06 246.6,300.02 244.53,300.42 242.46,300.24 240.39,300.3 238.32,300.45 236.25,300.21 234.18,300.86 232.11,300.64 230.04,300.36 227.97,300.28 225.9,300.65 223.83,299.95 221.76,299.9 219.69,300.33 217.62,299.69 215.55,300.64 213.48,300.31 211.41,300.25 209.34,299.98 207.27,300.3 205.2,300.53 203.13,300.17 201.06,299.74 198.99,300.58 196.92,299.37 194.85,299.53 192.78,299.8 190.71,299.12 188.64,299.74 186.57,299.66 184.5,299.53 182.43,300.03 180.36,299.18 178.29,299.66 176.22,299.01 174.15,298.64 172.08,298.29 170.01,298.87 167.94,297.33 165.87,297.28 163.8,296.6 161.73,296.6 159.66,295.69 157.59,295.47 155.52,295.12 153.45,294.77 151.38,295.34 149.31,295.07 147.24,294.11 145.17,294.47 143.1,293.55 141.03,293.38 138.96,293.17 136.89,290.86 134.82,290.05 132.75,289.66 130.68,288.41 128.61,287.85 126.54,287.31 124.47,286.1 122.4,284.16 120.33,284.09 118.26,283.06 116.19,280.8 114.12,279.57 112.05,278.43 109.98,278 107.91,277.2 105.84,275.32 103.77,274.19 101.7,273.88 99.63,272.23 97.56,268.83 95.49,267.16 93.42,265.32 91.35,264.82 89.28,267.16 87.21,269.53 85.14,274.27 83.07,279.47 81,283.42" fill="#f4fbf3" stroke="none"/>
<path d="M81.5 283.42V282.38M83.5 279.47V272.4M85.5 274.27V264.79M87.5 269.53V255.53M89.5 267.16V251.85M91.5 264.82V249.22M93.5 265.32V247.49M95.5 267.16V249.21M97.5 268.83V249.61M99.5 272.23V251.51M101.5 273.88V254.48M103.5 274.19V255.84M105.5 275.32V256.23M107.5 277.2V258.09M109.5 278V259.46M112.5 278.43V260.36M114.5 279.57V261.31M116.5 280.8V262.89M118.5 283.06V265.24M120.5 284.09V265.5M122.5 284.16V267.51M124.5 286.1V268.36M126.5 287.31V268.65M128.5 287.85V270.25M130.5 288.41V271.79M132.5 289.66V272.61M134.5 290.05V272.83M136.5 290.86V275.54M138.5 293.17V276.25M141.5 293.38V277.64M143.5 293.55V277.12M145.5 294.47V278.13M147.5 294.11V278.44M149.5 295.07V280.49M151.5 295.34V280.16M153.5 294.77V280.15M155.5 295.12V280.92M157.5 295.47V282.05M159.5 295.69V282.13M161.5 296.6V281.42M163.5 296.6V281.53M165.5 297.28V283.22M167.5 297.33V282.9M170.5 298.87V283.44M172.5 298.29V282.64M174.5 298.64V282.87M176.5 299.01V284.3M178.5 299.66V284.12M180.5 299.18V283.77M182.5 300.03V285.62M184.5 299.53V285.36M186.5 299.66V285.95M188.5 299.74V284.94M190.5 299.12V286.62M192.5 299.8V285.48M194.5 299.53V287.18M196.5 299.37V286.72M198.5 300.58V286.78M201.5 299.74V287.32M203.5 300.17V288.03M205.5 300.53V286.89M207.5 300.3V286.68M209.5 299.98V287.44M211.5 300.25V286.96M213.5 300.31V286.77M215.5 300.64V286.9M217.5 299.69V286.74M219.5 300.33V287.06M221.5 299.9V287.27M223.5 299.95V287.27M225.5 300.65V288.11M227.5 300.28V287.28M230.5 300.36V287.67M232.5 300.64V287.1M234.5 300.86V287.42M236.5 300.21V286.84M238.5 300.45V287.27M240.5 300.3V286.86M242.5 300.24V288.17M244.5 300.42V287.86M246.5 300.02V287.22M248.5 300.06V287.75M250.5 299.92V288.58M252.5 300.5V287.09M254.5 300.09V288.37M256.5 300.27V287.68M259.5 300.3V287.79M261.5 299.28V288.4M263.5 299.63V287.61M265.5 300.1V287.81M267.5 299.89V288.14M269.5 298.83V288.67M271.5 298.75V287.61M273.5 299.13V288.62M275.5 298.54V288.52M277.5 298.71V288.52M279.5 298.41V288.24M281.5 299.17V288.26M283.5 299.27V287.86M285.5 299.36V288.13" stroke="#a5da9f" stroke-width="0.95" fill="none"/>
<path d="M80.2 282.38H81.8M82.27 272.4H83.87M84.34 264.79H85.94M86.41 255.53H88.01M88.48 251.85H90.08M90.55 249.22H92.15M92.62 247.49H94.22M94.69 249.21H96.29M96.76 249.61H98.36M98.83 251.51H100.43M100.9 254.48H102.5M102.97 255.84H104.57M105.04 256.23H106.64M107.11 258.09H108.71M109.18 259.46H110.78M111.25 260.36H112.85M113.32 261.31H114.92M115.39 262.89H116.99M117.46 265.24H119.06M119.53 265.5H121.13M121.6 267.51H123.2M123.67 268.36H125.27M125.74 268.65H127.34M127.81 270.25H129.41M129.88 271.79H131.48M131.95 272.61H133.55M134.02 272.83H135.62M136.09 275.54H137.69M138.16 276.25H139.76M140.23 277.64H141.83M142.3 277.12H143.9M144.37 278.13H145.97M146.44 278.44H148.04M148.51 280.49H150.11M150.58 280.16H152.18M152.65 280.15H154.25M154.72 280.92H156.32M156.79 282.05H158.39M158.86 282.13H160.46M160.93 281.42H162.53M163 281.53H164.6M165.07 283.22H166.67M167.14 282.9H168.74M169.21 283.44H170.81M171.28 282.64H172.88M173.35 282.87H174.95M175.42 284.3H177.02M177.49 284.12H179.09M179.56 283.77H181.16M181.63 285.62H183.23M183.7 285.36H185.3M185.77 285.95H187.37M187.84 284.94H189.44M189.91 286.62H191.51M191.98 285.48H193.58M194.05 287.18H195.65M196.12 286.72H197.72M198.19 286.78H199.79M200.26 287.32H201.86M202.33 288.03H203.93M204.4 286.89H206M206.47 286.68H208.07M208.54 287.44H210.14M210.61 286.96H212.21M212.68 286.77H214.28M214.75 286.9H216.35M216.82 286.74H218.42M218.89 287.06H220.49M220.96 287.27H222.56M223.03 287.27H224.63M225.1 288.11H226.7M227.17 287.28H228.77M229.24 287.67H230.84M231.31 287.1H232.91M233.38 287.42H234.98M235.45 286.84H237.05M237.52 287.27H239.12M239.59 286.86H241.19M241.66 288.17H243.26M243.73 287.86H245.33M245.8 287.22H247.4M247.87 287.75H249.47M249.94 288.58H251.54M252.01 287.09H253.61M254.08 288.37H255.68M256.15 287.68H257.75M258.22 287.79H259.82M260.29 288.4H261.89M262.36 287.61H263.96M264.43 287.81H266.03M266.5 288.14H268.1M268.57 288.67H270.17M270.64 287.61H272.24M272.71 288.62H274.31M274.78 288.52H276.38M276.85 288.52H278.45M278.92 288.24H280.52M280.99 288.26H282.59M283.06 287.86H284.66M285.13 288.13H286.73" stroke="#a2d99b" stroke-width="0.7" fill="none"/>
<path d="M81.5 282.9V278.44M83.5 278.97V272.29M85.5 272.35V267.41M87.5 267.67V261.05M89.5 265.09V256.59M91.5 264.03V257.6M93.5 264.91V258.96M95.5 265.55V259.7M97.5 265.99V260.78M99.5 269.33V261.19M101.5 270.88V262.7M103.5 272.17V263.72M105.5 272.8V264.83M107.5 274.26V265.6M109.5 275.06V268.66M112.5 277.11V269.07M114.5 278.2V272.14M116.5 278.68V273.73M118.5 279.34V273.73M120.5 281.4V276.09M122.5 281.44V277.79M124.5 282.46V279.11M126.5 282.91V279.22M128.5 284.39V279.94M130.5 285.48V280.89M132.5 286.47V283.26M134.5 287V282.99M136.5 288.38V284.45M138.5 288.63V284.36M141.5 289.68V285.74M143.5 289.86V287.21M145.5 290.71V286.44M147.5 290.63V288.37M149.5 291.03V288.51M151.5 291.85V289.83M153.5 292.2V289.98M155.5 293.15V289.6M157.5 293.52V291.28M159.5 294.28V291.02M161.5 294.96V290.66M163.5 295.94V291.1M165.5 297.05V292.46M167.5 297.26V292.82M170.5 298.06V293M172.5 299.52V293.15M174.5 298.89V293.95M176.5 300.24V294.34M178.5 300.66V295.73M180.5 300.36V294.66M182.5 301.91V296.39M184.5 302.32V296.85M186.5 302.27V295.86M188.5 302.74V297.61M190.5 303.17V297.53M192.5 302.55V298.17M194.5 303.41V297.37M196.5 303.54V297.82M198.5 304.14V298.16M201.5 304.24V299.49M203.5 304.42V298.93M205.5 304.22V298.7M207.5 304.8V299.01M209.5 304.64V298.91M211.5 304.8V298.69M213.5 304.29V298.96M215.5 304.16V300.46M217.5 304.44V299.66M219.5 304.91V301.01M221.5 304.69V299.95M223.5 305.86V300.16M225.5 305.61V300.79M227.5 305.85V300.39M230.5 305.99V300.9M232.5 306.21V302.13M234.5 306.08V302.18M236.5 305.55V302.23M238.5 306.8V302.09M240.5 306.88V302.77M242.5 306.7V302.98M244.5 306.91V302.43M246.5 307.25V302.9M248.5 306.59V301.85M250.5 307.7V303.24M252.5 307.18V302.89M254.5 307.1V303.59M256.5 307.54V303.55M259.5 308.35V303.06M261.5 307.78V302.79M263.5 308.7V304.53M265.5 309.2V303.25M267.5 308.69V304.03M269.5 308.7V303.95M271.5 309V304.03M273.5 309.45V304.98M275.5 309.74V305.56M277.5 309.69V304.43M279.5 309.89V305.3M281.5 309.27V304.82M283.5 309.53V305.44M285.5 309.85V305.3" stroke="#e0a59c" stroke-width="0.6" fill="none"/>
<path d="M80.2 278.44H81.8M82.27 272.29H83.87M84.34 267.41H85.94M86.41 261.05H88.01M88.48 256.59H90.08M90.55 257.6H92.15M92.62 258.96H94.22M94.69 259.7H96.29M96.76 260.78H98.36M98.83 261.19H100.43M100.9 262.7H102.5M102.97 263.72H104.57M105.04 264.83H106.64M107.11 265.6H108.71M109.18 268.66H110.78M111.25 269.07H112.85M113.32 272.14H114.92M115.39 273.73H116.99M117.46 273.73H119.06M119.53 276.09H121.13M121.6 277.79H123.2M123.67 279.11H125.27M125.74 279.22H127.34M127.81 279.94H129.41M129.88 280.89H131.48M131.95 283.26H133.55M134.02 282.99H135.62M136.09 284.45H137.69M138.16 284.36H139.76M140.23 285.74H141.83M142.3 287.21H143.9M144.37 286.44H145.97M146.44 288.37H148.04M148.51 288.51H150.11M150.58 289.83H152.18M152.65 289.98H154.25M154.72 289.6H156.32M156.79 291.28H158.39M158.86 291.02H160.46M160.93 290.66H162.53M163 291.1H164.6M165.07 292.46H166.67M167.14 292.82H168.74M169.21 293H170.81M171.28 293.15H172.88M173.35 293.95H174.95M175.42 294.34H177.02M177.49 295.73H179.09M179.56 294.66H181.16M181.63 296.39H183.23M183.7 296.85H185.3M185.77 295.86H187.37M187.84 297.61H189.44M189.91 297.53H191.51M191.98 298.17H193.58M194.05 297.37H195.65M196.12 297.82H197.72M198.19 298.16H199.79M200.26 299.49H201.86M202.33 298.93H203.93M204.4 298.7H206M206.47 299.01H208.07M208.54 298.91H210.14M210.61 298.69H212.21M212.68 298.96H214.28M214.75 300.46H216.35M216.82 299.66H218.42M218.89 301.01H220.49M220.96 299.95H222.56M223.03 300.16H224.63M225.1 300.79H226.7M227.17 300.39H228.77M229.24 300.9H230.84M231.31 302.13H232.91M233.38 302.18H234.98M235.45 302.23H237.05M237.52 302.09H239.12M239.59 302.77H241.19M241.66 302.98H243.26M243.73 302.43H245.33M245.8 302.9H247.4M247.87 301.85H249.47M249.94 303.24H251.54M252.01 302.89H253.61M254.08 303.59H255.68M256.15 303.55H257.75M258.22 303.06H259.82M260.29 302.79H261.89M262.36 304.53H263.96M264.43 303.25H266.03M266.5 304.03H268.1M268.57 303.95H270.17M270.64 304.03H272.24M272.71 304.98H274.31M274.78 305.56H276.38M276.85 304.43H278.45M278.92 305.3H280.52M280.99 304.82H282.59M283.06 305.44H284.66M285.13 305.3H286.73" stroke="#d98d6c" stroke-width="0.7" fill="none"/>
<polygon points="81,286.71 83.07,281.34 85.14,278.15 87.21,275.14 89.28,274.07 91.35,273.19 93.42,272.81 95.49,273.75 97.56,276.6 99.63,276.9 101.7,278.89 103.77,278.83 105.84,279.8 107.91,281.77 109.98,281.92 112.05,284.22 114.12,284.52 116.19,285.08 118.26,286.26 120.33,287.73 122.4,289.29 124.47,290.92 126.54,290.6 128.61,292.16 130.68,292.9 132.75,295.22 134.82,294.67 136.89,295.46 138.96,296.43 141.03,297.94 143.1,299.71 145.17,300.55 147.24,301.14 149.31,302.49 151.38,303.23 153.45,303.01 155.52,303.39 157.59,305.1 159.66,305.12 161.73,304.19 163.8,305.69 165.87,305.54 167.94,305.89 170.01,306.17 172.08,306.23 174.15,306.27 176.22,307.1 178.29,307.57 180.36,308.99 182.43,307.83 184.5,309.67 186.57,308.65 188.64,309.25 190.71,310.72 192.78,311.47 194.85,311.52 196.92,311.58 198.99,313.09 201.06,313.41 203.13,314.66 205.2,313.62 207.27,314.2 209.34,315.43 211.41,314.13 213.48,315.07 215.55,316.05 217.62,316.22 219.69,315.17 221.76,315.41 223.83,315.72 225.9,317.52 227.97,316.58 230.04,317.72 232.11,318.24 234.18,317.49 236.25,317.63 238.32,319.12 240.39,318.76 242.46,318.38 244.53,319.46 246.6,318.99 248.67,319.18 250.74,318.95 252.81,320.56 254.88,321.11 256.95,320.86 259.02,321.68 261.09,320.26 263.16,320.86 265.23,321.52 267.3,322.61 269.37,322.83 271.44,322.03 273.51,322.01 275.58,322.55 277.65,322.89 279.72,323.89 281.79,322.78 283.86,324.11 285.93,324.22 285.93,332.54 283.86,332.58 281.79,333.33 279.72,332.73 277.65,331.93 275.58,331.93 273.51,332.05 271.44,331.57 269.37,330.68 267.3,330.84 265.23,331.17 263.16,331.3 261.09,330.07 259.02,329.79 256.95,329.84 254.88,330.12 252.81,329.5 250.74,329.65 248.67,328.66 246.6,328.15 244.53,327.45 242.46,327.99 240.39,327.17 238.32,327.11 236.25,327.09 234.18,326.72 232.11,325.79 230.04,325.56 227.97,326.09 225.9,325.72 223.83,324.89 221.76,324.43 219.69,324.38 217.62,324.57 215.55,324.66 213.48,323.41 211.41,323.89 209.34,322.52 207.27,322.83 205.2,322.28 203.13,322.3 201.06,321.72 198.99,321.26 196.92,320.83 194.85,319.74 192.78,318.79 190.71,317.55 188.64,316.83 186.57,316.57 184.5,317.13 182.43,316.51 180.36,316.01 178.29,315.7 176.22,314.5 174.15,313.49 172.08,313.86 170.01,313.32 167.94,313.54 165.87,312.91 163.8,311.59 161.73,311.21 159.66,312.03 157.59,311.62 155.52,311.4 153.45,310.15 151.38,309.4 149.31,308.51 147.24,307.86 145.17,307.1 143.1,307.33 141.03,306.32 138.96,305.28 136.89,303.72 134.82,303.86 132.75,301.86 130.68,300.53 128.61,299.82 126.54,298.76 124.47,297.85 122.4,296.58 120.33,295.46 118.26,294.95 116.19,294.19 114.12,292.79 112.05,291.4 109.98,290.42 107.91,289.02 105.84,288.17 103.77,286.61 101.7,285.56 99.63,284.13 97.56,282.49 95.49,281.47 93.42,280.45 91.35,278.62 89.28,279.44 87.21,281.56 85.14,282.93 83.07,286.21 81,290.53" fill="#e2f5fc" stroke="none"/>
<path d="M81.5 290.53V286.71M83.5 286.21V281.34M85.5 282.93V278.15M87.5 281.56V275.14M89.5 279.44V274.07M91.5 278.62V273.19M93.5 280.45V272.81M95.5 281.47V273.75M97.5 282.49V276.6M99.5 284.13V276.9M101.5 285.56V278.89M103.5 286.61V278.83M105.5 288.17V279.8M107.5 289.02V281.77M109.5 290.42V281.92M112.5 291.4V284.22M114.5 292.79V284.52M116.5 294.19V285.08M118.5 294.95V286.26M120.5 295.46V287.73M122.5 296.58V289.29M124.5 297.85V290.92M126.5 298.76V290.6M128.5 299.82V292.16M130.5 300.53V292.9M132.5 301.86V295.22M134.5 303.86V294.67M136.5 303.72V295.46M138.5 305.28V296.43M141.5 306.32V297.94M143.5 307.33V299.71M145.5 307.1V300.55M147.5 307.86V301.14M149.5 308.51V302.49M151.5 309.4V303.23M153.5 310.15V303.01M155.5 311.4V303.39M157.5 311.62V305.1M159.5 312.03V305.12M161.5 311.21V304.19M163.5 311.59V305.69M165.5 312.91V305.54M167.5 313.54V305.89M170.5 313.32V306.17M172.5 313.86V306.23M174.5 313.49V306.27M176.5 314.5V307.1M178.5 315.7V307.57M180.5 316.01V308.99M182.5 316.51V307.83M184.5 317.13V309.67M186.5 316.57V308.65M188.5 316.83V309.25M190.5 317.55V310.72M192.5 318.79V311.47M194.5 319.74V311.52M196.5 320.83V311.58M198.5 321.26V313.09M201.5 321.72V313.41M203.5 322.3V314.66M205.5 322.28V313.62M207.5 322.83V314.2M209.5 322.52V315.43M211.5 323.89V314.13M213.5 323.41V315.07M215.5 324.66V316.05M217.5 324.57V316.22M219.5 324.38V315.17M221.5 324.43V315.41M223.5 324.89V315.72M225.5 325.72V317.52M227.5 326.09V316.58M230.5 325.56V317.72M232.5 325.79V318.24M234.5 326.72V317.49M236.5 327.09V317.63M238.5 327.11V319.12M240.5 327.17V318.76M242.5 327.99V318.38M244.5 327.45V319.46M246.5 328.15V318.99M248.5 328.66V319.18M250.5 329.65V318.95M252.5 329.5V320.56M254.5 330.12V321.11M256.5 329.84V320.86M259.5 329.79V321.68M261.5 330.07V320.26M263.5 331.3V320.86M265.5 331.17V321.52M267.5 330.84V322.61M269.5 330.68V322.83M271.5 331.57V322.03M273.5 332.05V322.01M275.5 331.93V322.55M277.5 331.93V322.89M279.5 332.73V323.89M281.5 333.33V322.78M283.5 332.58V324.11M285.5 332.54V324.22" stroke="#55bbea" stroke-width="0.9" fill="none"/>
<path d="M80.2 286.71H81.8M82.27 281.34H83.87M84.34 278.15H85.94M86.41 275.14H88.01M88.48 274.07H90.08M90.55 273.19H92.15M92.62 272.81H94.22M94.69 273.75H96.29M96.76 276.6H98.36M98.83 276.9H100.43M100.9 278.89H102.5M102.97 278.83H104.57M105.04 279.8H106.64M107.11 281.77H108.71M109.18 281.92H110.78M111.25 284.22H112.85M113.32 284.52H114.92M115.39 285.08H116.99M117.46 286.26H119.06M119.53 287.73H121.13M121.6 289.29H123.2M123.67 290.92H125.27M125.74 290.6H127.34M127.81 292.16H129.41M129.88 292.9H131.48M131.95 295.22H133.55M134.02 294.67H135.62M136.09 295.46H137.69M138.16 296.43H139.76M140.23 297.94H141.83M142.3 299.71H143.9M144.37 300.55H145.97M146.44 301.14H148.04M148.51 302.49H150.11M150.58 303.23H152.18M152.65 303.01H154.25M154.72 303.39H156.32M156.79 305.1H158.39M158.86 305.12H160.46M160.93 304.19H162.53M163 305.69H164.6M165.07 305.54H166.67M167.14 305.89H168.74M169.21 306.17H170.81M171.28 306.23H172.88M173.35 306.27H174.95M175.42 307.1H177.02M177.49 307.57H179.09M179.56 308.99H181.16M181.63 307.83H183.23M183.7 309.67H185.3M185.77 308.65H187.37M187.84 309.25H189.44M189.91 310.72H191.51M191.98 311.47H193.58M194.05 311.52H195.65M196.12 311.58H197.72M198.19 313.09H199.79M200.26 313.41H201.86M202.33 314.66H203.93M204.4 313.62H206M206.47 314.2H208.07M208.54 315.43H210.14M210.61 314.13H212.21M212.68 315.07H214.28M214.75 316.05H216.35M216.82 316.22H218.42M218.89 315.17H220.49M220.96 315.41H222.56M223.03 315.72H224.63M225.1 317.52H226.7M227.17 316.58H228.77M229.24 317.72H230.84M231.31 318.24H232.91M233.38 317.49H234.98M235.45 317.63H237.05M237.52 319.12H239.12M239.59 318.76H241.19M241.66 318.38H243.26M243.73 319.46H245.33M245.8 318.99H247.4M247.87 319.18H249.47M249.94 318.95H251.54M252.01 320.56H253.61M254.08 321.11H255.68M256.15 320.86H257.75M258.22 321.68H259.82M260.29 320.26H261.89M262.36 320.86H263.96M264.43 321.52H266.03M266.5 322.61H268.1M268.57 322.83H270.17M270.64 322.03H272.24M272.71 322.01H274.31M274.78 322.55H276.38M276.85 322.89H278.45M278.92 323.89H280.52M280.99 322.78H282.59M283.06 324.11H284.66M285.13 324.22H286.73" stroke="#4fb3e6" stroke-width="0.7" fill="none"/>
<polyline points="81,281.26 83.07,272.94 85.14,264.76 87.21,259.71 89.28,257.1 91.35,255.92 93.42,256.66 95.49,256.55 97.56,257.65 99.63,259.28 101.7,260.05 103.77,261.09 105.84,262.25 107.91,263.85 109.98,264.85 112.05,266.61 114.12,267.78 116.19,269.1 118.26,269.77 120.33,270.84 122.4,271.92 124.47,273.32 126.54,274.57 128.61,275.43 130.68,276.34 132.75,277.56 134.82,278.79 136.89,279.62 138.96,280.35 141.03,281.11 143.1,281.63 145.17,281.87 147.24,283.12 149.31,283.35 151.38,284.11 153.45,284.16 155.52,284.66 157.59,284.43 159.66,284.67 161.73,284.87 163.8,285.01 165.87,285.79 167.94,285.75 170.01,285.75 172.08,286.01 174.15,286.68 176.22,286.49 178.29,286.47 180.36,287.14 182.43,287.17 184.5,287.55 186.57,286.96 188.64,287.37 190.71,287.75 192.78,287.88 194.85,288.05 196.92,287.47 198.99,287.78 201.06,287.71 203.13,287.79 205.2,288.44 207.27,288.16 209.34,288.46 211.41,288.04 213.48,288.46 215.55,288.15 217.62,288.03 219.69,288.47 221.76,288.63 223.83,287.98 225.9,288.4 227.97,288.45 230.04,288.15 232.11,288.3 234.18,288.14 236.25,288.22 238.32,288.28 240.39,288.58 242.46,288.65 244.53,288.31 246.6,288.18 248.67,288.46 250.74,288.76 252.81,288.39 254.88,288.51 256.95,288.45 259.02,288.94 261.09,288.77 263.16,288.4 265.23,288.46 267.3,288.71 269.37,288.86 271.44,288.95 273.51,288.54 275.58,288.62 277.65,289.07 279.72,288.86 281.79,288.78 283.86,288.82 285.93,289.36" fill="none" stroke="#cfcfd6" stroke-width="1.0"/>
<polyline points="81,286.71 83.07,281.34 85.14,278.15 87.21,275.14 89.28,274.07 91.35,273.19 93.42,272.81 95.49,273.75 97.56,276.6 99.63,276.9 101.7,278.89 103.77,278.83 105.84,279.8 107.91,281.77 109.98,281.92 112.05,284.22 114.12,284.52 116.19,285.08 118.26,286.26 120.33,287.73 122.4,289.29 124.47,290.92 126.54,290.6 128.61,292.16 130.68,292.9 132.75,295.22 134.82,294.67 136.89,295.46 138.96,296.43 141.03,297.94 143.1,299.71 145.17,300.55 147.24,301.14 149.31,302.49 151.38,303.23 153.45,303.01 155.52,303.39 157.59,305.1 159.66,305.12 161.73,304.19 163.8,305.69 165.87,305.54 167.94,305.89 170.01,306.17 172.08,306.23 174.15,306.27 176.22,307.1 178.29,307.57 180.36,308.99 182.43,307.83 184.5,309.67 186.57,308.65 188.64,309.25 190.71,310.72 192.78,311.47 194.85,311.52 196.92,311.58 198.99,313.09 201.06,313.41 203.13,314.66 205.2,313.62 207.27,314.2 209.34,315.43 211.41,314.13 213.48,315.07 215.55,316.05 217.62,316.22 219.69,315.17 221.76,315.41 223.83,315.72 225.9,317.52 227.97,316.58 230.04,317.72 232.11,318.24 234.18,317.49 236.25,317.63 238.32,319.12 240.39,318.76 242.46,318.38 244.53,319.46 246.6,318.99 248.67,319.18 250.74,318.95 252.81,320.56 254.88,321.11 256.95,320.86 259.02,321.68 261.09,320.26 263.16,320.86 265.23,321.52 267.3,322.61 269.37,322.83 271.44,322.03 273.51,322.01 275.58,322.55 277.65,322.89 279.72,323.89 281.79,322.78 283.86,324.11 285.93,324.22" fill="none" stroke="#6cc2ec" stroke-width="0.7"/>
<polyline points="58.2,332.81 60.27,333.07 62.34,332.86 64.41,332.92 66.48,333.36 68.55,333.5 70.62,332.86 72.69,332.7 74.76,333.23 76.83,332.7 78.9,332.51 79.8,333" fill="none" stroke="#2f9fd8" stroke-width="1.2" stroke-linejoin="round"/>
<polyline points="81,290.53 83.07,286.21 85.14,282.93 87.21,281.56 89.28,279.44 91.35,278.62 93.42,280.45 95.49,281.47 97.56,282.49 99.63,284.13 101.7,285.56 103.77,286.61 105.84,288.17 107.91,289.02 109.98,290.42 112.05,291.4 114.12,292.79 116.19,294.19 118.26,294.95 120.33,295.46 122.4,296.58 124.47,297.85 126.54,298.76 128.61,299.82 130.68,300.53 132.75,301.86 134.82,303.86 136.89,303.72 138.96,305.28 141.03,306.32 143.1,307.33 145.17,307.1 147.24,307.86 149.31,308.51 151.38,309.4 153.45,310.15 155.52,311.4 157.59,311.62 159.66,312.03 161.73,311.21 163.8,311.59 165.87,312.91 167.94,313.54 170.01,313.32 172.08,313.86 174.15,313.49 176.22,314.5 178.29,315.7 180.36,316.01 182.43,316.51 184.5,317.13 186.57,316.57 188.64,316.83 190.71,317.55 192.78,318.79 194.85,319.74 196.92,320.83 198.99,321.26 201.06,321.72 203.13,322.3 205.2,322.28 207.27,322.83 209.34,322.52 211.41,323.89 213.48,323.41 215.55,324.66 217.62,324.57 219.69,324.38 221.76,324.43 223.83,324.89 225.9,325.72 227.97,326.09 230.04,325.56 232.11,325.79 234.18,326.72 236.25,327.09 238.32,327.11 240.39,327.17 242.46,327.99 244.53,327.45 246.6,328.15 248.67,328.66 250.74,329.65 252.81,329.5 254.88,330.12 256.95,329.84 259.02,329.79 261.09,330.07 263.16,331.3 265.23,331.17 267.3,330.84 269.37,330.68 271.44,331.57 273.51,332.05 275.58,331.93 277.65,331.93 279.72,332.73 281.79,333.33 283.86,332.58 285.93,332.54" fill="none" stroke="#2f9fd8" stroke-width="1.4" stroke-linejoin="round"/>
<polyline points="58.2,333.4 60.27,332.92 62.34,333.32 64.41,332.91 66.48,333.38 68.55,332.96 70.62,332.66 72.69,332.51 74.76,333.05 76.83,333.14 78.9,333.41 79.8,333" fill="none" stroke="#b8142c" stroke-width="1.2" stroke-linejoin="round"/>
<polyline points="81,282.9 83.07,278.97 85.14,272.35 87.21,267.67 89.28,265.09 91.35,264.03 93.42,264.91 95.49,265.55 97.56,265.99 99.63,269.33 101.7,270.88 103.77,272.17 105.84,272.8 107.91,274.26 109.98,275.06 112.05,277.11 114.12,278.2 116.19,278.68 118.26,279.34 120.33,281.4 122.4,281.44 124.47,282.46 126.54,282.91 128.61,284.39 130.68,285.48 132.75,286.47 134.82,287 136.89,288.38 138.96,288.63 141.03,289.68 143.1,289.86 145.17,290.71 147.24,290.63 149.31,291.03 151.38,291.85 153.45,292.2 155.52,293.15 157.59,293.52 159.66,294.28 161.73,294.96 163.8,295.94 165.87,297.05 167.94,297.26 170.01,298.06 172.08,299.52 174.15,298.89 176.22,300.24 178.29,300.66 180.36,300.36 182.43,301.91 184.5,302.32 186.57,302.27 188.64,302.74 190.71,303.17 192.78,302.55 194.85,303.41 196.92,303.54 198.99,304.14 201.06,304.24 203.13,304.42 205.2,304.22 207.27,304.8 209.34,304.64 211.41,304.8 213.48,304.29 215.55,304.16 217.62,304.44 219.69,304.91 221.76,304.69 223.83,305.86 225.9,305.61 227.97,305.85 230.04,305.99 232.11,306.21 234.18,306.08 236.25,305.55 238.32,306.8 240.39,306.88 242.46,306.7 244.53,306.91 246.6,307.25 248.67,306.59 250.74,307.7 252.81,307.18 254.88,307.1 256.95,307.54 259.02,308.35 261.09,307.78 263.16,308.7 265.23,309.2 267.3,308.69 269.37,308.7 271.44,309 273.51,309.45 275.58,309.74 277.65,309.69 279.72,309.89 281.79,309.27 283.86,309.53 285.93,309.85" fill="none" stroke="#b8142c" stroke-width="1.5" stroke-linejoin="round"/>
<polyline points="58.2,332.59 60.27,333.12 62.34,332.87 64.41,333 66.48,332.65 68.55,332.78 70.62,333.02 72.69,333.43 74.76,332.61 76.83,332.99 78.9,333.3 79.8,333" fill="none" stroke="#2a9a33" stroke-width="1.2" stroke-linejoin="round"/>
<polyline points="81,283.42 83.07,279.47 85.14,274.27 87.21,269.53 89.28,267.16 91.35,264.82 93.42,265.32 95.49,267.16 97.56,268.83 99.63,272.23 101.7,273.88 103.77,274.19 105.84,275.32 107.91,277.2 109.98,278 112.05,278.43 114.12,279.57 116.19,280.8 118.26,283.06 120.33,284.09 122.4,284.16 124.47,286.1 126.54,287.31 128.61,287.85 130.68,288.41 132.75,289.66 134.82,290.05 136.89,290.86 138.96,293.17 141.03,293.38 143.1,293.55 145.17,294.47 147.24,294.11 149.31,295.07 151.38,295.34 153.45,294.77 155.52,295.12 157.59,295.47 159.66,295.69 161.73,296.6 163.8,296.6 165.87,297.28 167.94,297.33 170.01,298.87 172.08,298.29 174.15,298.64 176.22,299.01 178.29,299.66 180.36,299.18 182.43,300.03 184.5,299.53 186.57,299.66 188.64,299.74 190.71,299.12 192.78,299.8 194.85,299.53 196.92,299.37 198.99,300.58 201.06,299.74 203.13,300.17 205.2,300.53 207.27,300.3 209.34,299.98 211.41,300.25 213.48,300.31 215.55,300.64 217.62,299.69 219.69,300.33 221.76,299.9 223.83,299.95 225.9,300.65 227.97,300.28 230.04,300.36 232.11,300.64 234.18,300.86 236.25,300.21 238.32,300.45 240.39,300.3 242.46,300.24 244.53,300.42 246.6,300.02 248.67,300.06 250.74,299.92 252.81,300.5 254.88,300.09 256.95,300.27 259.02,300.3 261.09,299.28 263.16,299.63 265.23,300.1 267.3,299.89 269.37,298.83 271.44,298.75 273.51,299.13 275.58,298.54 277.65,298.71 279.72,298.41 281.79,299.17 283.86,299.27 285.93,299.36" fill="none" stroke="#2a9a33" stroke-width="1.5" stroke-linejoin="round"/>
<polyline points="58.2,333.47 60.27,332.7 62.34,332.63 64.41,333.44 66.48,333.48 68.55,332.98 70.62,332.55 72.69,333.43 74.76,332.89 76.83,333.4 78.9,333.12 79.8,333" fill="none" stroke="#4a1858" stroke-width="1.2" stroke-linejoin="round"/>
<polyline points="81,280.72 83.07,269.45 85.14,262.74 87.21,253.49 89.28,249.22 91.35,246.17 93.42,245.28 95.49,246.41 97.56,247.06 99.63,249.42 101.7,250.91 103.77,252.59 105.84,254.72 107.91,256.74 109.98,256.83 112.05,258.2 114.12,260.06 116.19,261.93 118.26,262.96 120.33,264.2 122.4,266.18 124.47,265.74 126.54,268.09 128.61,268.21 130.68,269 132.75,269.98 134.82,271.31 136.89,273.17 138.96,273.22 141.03,274.92 143.1,276.06 145.17,276.35 147.24,277.34 149.31,277.28 151.38,277.86 153.45,278.35 155.52,279.35 157.59,279.2 159.66,279.26 161.73,279.99 163.8,280.09 165.87,280.15 167.94,281.25 170.01,281.4 172.08,280.97 174.15,281.79 176.22,282 178.29,282.85 180.36,282.91 182.43,282.49 184.5,283.88 186.57,282.79 188.64,283.56 190.71,284.39 192.78,283.71 194.85,284.51 196.92,284.06 198.99,285.34 201.06,285.64 203.13,285.38 205.2,285.9 207.27,285.05 209.34,285.7 211.41,285.58 213.48,285.6 215.55,285.44 217.62,286.1 219.69,286.31 221.76,285.57 223.83,285.89 225.9,284.94 227.97,285.98 230.04,285.9 232.11,286.47 234.18,286.21 236.25,285.36 238.32,285.54 240.39,286.01 242.46,284.99 244.53,285.7 246.6,285.25 248.67,285.18 250.74,285.09 252.81,286.23 254.88,285.21 256.95,285.4 259.02,285.63 261.09,286.39 263.16,285.13 265.23,285.72 267.3,285.88 269.37,286.41 271.44,286.4 273.51,286.6 275.58,285.79 277.65,286.14 279.72,286.18 281.79,287.15 283.86,287.4 285.93,286.24" fill="none" stroke="#4a1858" stroke-width="1.7" stroke-linejoin="round"/>
<circle cx="81" cy="290.53" r="1.0" fill="#2f9fd8"/>
<circle cx="85.14" cy="282.93" r="1.0" fill="#2f9fd8"/>
<circle cx="89.28" cy="279.44" r="1.0" fill="#2f9fd8"/>
<circle cx="93.42" cy="280.45" r="1.0" fill="#2f9fd8"/>
<circle cx="97.56" cy="282.49" r="1.0" fill="#2f9fd8"/>
<circle cx="101.7" cy="285.56" r="1.0" fill="#2f9fd8"/>
<circle cx="105.84" cy="288.17" r="1.0" fill="#2f9fd8"/>
<circle cx="109.98" cy="290.42" r="1.0" fill="#2f9fd8"/>
<circle cx="114.12" cy="292.79" r="1.0" fill="#2f9fd8"/>
<circle cx="118.26" cy="294.95" r="1.0" fill="#2f9fd8"/>
<circle cx="122.4" cy="296.58" r="1.0" fill="#2f9fd8"/>
<circle cx="126.54" cy="298.76" r="1.0" fill="#2f9fd8"/>
<circle cx="130.68" cy="300.53" r="1.0" fill="#2f9fd8"/>
<circle cx="134.82" cy="303.86" r="1.0" fill="#2f9fd8"/>
<circle cx="138.96" cy="305.28" r="1.0" fill="#2f9fd8"/>
<circle cx="143.1" cy="307.33" r="1.0" fill="#2f9fd8"/>
<circle cx="147.24" cy="307.86" r="1.0" fill="#2f9fd8"/>
<circle cx="151.38" cy="309.4" r="1.0" fill="#2f9fd8"/>
<circle cx="155.52" cy="311.4" r="1.0" fill="#2f9fd8"/>
<circle cx="159.66" cy="312.03" r="1.0" fill="#2f9fd8"/>
<circle cx="163.8" cy="311.59" r="1.0" fill="#2f9fd8"/>
<circle cx="167.94" cy="313.54" r="1.0" fill="#2f9fd8"/>
<circle cx="172.08" cy="313.86" r="1.0" fill="#2f9fd8"/>
<circle cx="176.22" cy="314.5" r="1.0" fill="#2f9fd8"/>
<circle cx="180.36" cy="316.01" r="1.0" fill="#2f9fd8"/>
<circle cx="184.5" cy="317.13" r="1.0" fill="#2f9fd8"/>
<circle cx="188.64" cy="316.83" r="1.0" fill="#2f9fd8"/>
<circle cx="192.78" cy="318.79" r="1.0" fill="#2f9fd8"/>
<circle cx="196.92" cy="320.83" r="1.0" fill="#2f9fd8"/>
<circle cx="201.06" cy="321.72" r="1.0" fill="#2f9fd8"/>
<circle cx="205.2" cy="322.28" r="1.0" fill="#2f9fd8"/>
<circle cx="209.34" cy="322.52" r="1.0" fill="#2f9fd8"/>
<circle cx="213.48" cy="323.41" r="1.0" fill="#2f9fd8"/>
<circle cx="217.62" cy="324.57" r="1.0" fill="#2f9fd8"/>
<circle cx="221.76" cy="324.43" r="1.0" fill="#2f9fd8"/>
<circle cx="225.9" cy="325.72" r="1.0" fill="#2f9fd8"/>
<circle cx="230.04" cy="325.56" r="1.0" fill="#2f9fd8"/>
<circle cx="234.18" cy="326.72" r="1.0" fill="#2f9fd8"/>
<circle cx="238.32" cy="327.11" r="1.0" fill="#2f9fd8"/>
<circle cx="242.46" cy="327.99" r="1.0" fill="#2f9fd8"/>
<circle cx="246.6" cy="328.15" r="1.0" fill="#2f9fd8"/>
<circle cx="250.74" cy="329.65" r="1.0" fill="#2f9fd8"/>
<circle cx="254.88" cy="330.12" r="1.0" fill="#2f9fd8"/>
<circle cx="259.02" cy="329.79" r="1.0" fill="#2f9fd8"/>
<circle cx="263.16" cy="331.3" r="1.0" fill="#2f9fd8"/>
<circle cx="267.3" cy="330.84" r="1.0" fill="#2f9fd8"/>
<circle cx="271.44" cy="331.57" r="1.0" fill="#2f9fd8"/>
<circle cx="275.58" cy="331.93" r="1.0" fill="#2f9fd8"/>
<circle cx="279.72" cy="332.73" r="1.0" fill="#2f9fd8"/>
<circle cx="283.86" cy="332.58" r="1.0" fill="#2f9fd8"/>
<circle cx="81" cy="282.9" r="1.0" fill="#b5122a"/>
<circle cx="85.14" cy="272.35" r="1.0" fill="#b5122a"/>
<circle cx="89.28" cy="265.09" r="1.0" fill="#b5122a"/>
<circle cx="93.42" cy="264.91" r="1.0" fill="#b5122a"/>
<circle cx="97.56" cy="265.99" r="1.0" fill="#b5122a"/>
<circle cx="101.7" cy="270.88" r="1.0" fill="#b5122a"/>
<circle cx="105.84" cy="272.8" r="1.0" fill="#b5122a"/>
<circle cx="109.98" cy="275.06" r="1.0" fill="#b5122a"/>
<circle cx="114.12" cy="278.2" r="1.0" fill="#b5122a"/>
<circle cx="118.26" cy="279.34" r="1.0" fill="#b5122a"/>
<circle cx="122.4" cy="281.44" r="1.0" fill="#b5122a"/>
<circle cx="126.54" cy="282.91" r="1.0" fill="#b5122a"/>
<circle cx="130.68" cy="285.48" r="1.0" fill="#b5122a"/>
<circle cx="134.82" cy="287" r="1.0" fill="#b5122a"/>
<circle cx="138.96" cy="288.63" r="1.0" fill="#b5122a"/>
<circle cx="143.1" cy="289.86" r="1.0" fill="#b5122a"/>
<circle cx="147.24" cy="290.63" r="1.0" fill="#b5122a"/>
<circle cx="151.38" cy="291.85" r="1.0" fill="#b5122a"/>
<circle cx="155.52" cy="293.15" r="1.0" fill="#b5122a"/>
<circle cx="159.66" cy="294.28" r="1.0" fill="#b5122a"/>
<circle cx="163.8" cy="295.94" r="1.0" fill="#b5122a"/>
<circle cx="167.94" cy="297.26" r="1.0" fill="#b5122a"/>
<circle cx="172.08" cy="299.52" r="1.0" fill="#b5122a"/>
<circle cx="176.22" cy="300.24" r="1.0" fill="#b5122a"/>
<circle cx="180.36" cy="300.36" r="1.0" fill="#b5122a"/>
<circle cx="184.5" cy="302.32" r="1.0" fill="#b5122a"/>
<circle cx="188.64" cy="302.74" r="1.0" fill="#b5122a"/>
<circle cx="192.78" cy="302.55" r="1.0" fill="#b5122a"/>
<circle cx="196.92" cy="303.54" r="1.0" fill="#b5122a"/>
<circle cx="201.06" cy="304.24" r="1.0" fill="#b5122a"/>
<circle cx="205.2" cy="304.22" r="1.0" fill="#b5122a"/>
<circle cx="209.34" cy="304.64" r="1.0" fill="#b5122a"/>
<circle cx="213.48" cy="304.29" r="1.0" fill="#b5122a"/>
<circle cx="217.62" cy="304.44" r="1.0" fill="#b5122a"/>
<circle cx="221.76" cy="304.69" r="1.0" fill="#b5122a"/>
<circle cx="225.9" cy="305.61" r="1.0" fill="#b5122a"/>
<circle cx="230.04" cy="305.99" r="1.0" fill="#b5122a"/>
<circle cx="234.18" cy="306.08" r="1.0" fill="#b5122a"/>
<circle cx="238.32" cy="306.8" r="1.0" fill="#b5122a"/>
<circle cx="242.46" cy="306.7" r="1.0" fill="#b5122a"/>
<circle cx="246.6" cy="307.25" r="1.0" fill="#b5122a"/>
<circle cx="250.74" cy="307.7" r="1.0" fill="#b5122a"/>
<circle cx="254.88" cy="307.1" r="1.0" fill="#b5122a"/>
<circle cx="259.02" cy="308.35" r="1.0" fill="#b5122a"/>
<circle cx="263.16" cy="308.7" r="1.0" fill="#b5122a"/>
<circle cx="267.3" cy="308.69" r="1.0" fill="#b5122a"/>
<circle cx="271.44" cy="309" r="1.0" fill="#b5122a"/>
<circle cx="275.58" cy="309.74" r="1.0" fill="#b5122a"/>
<circle cx="279.72" cy="309.89" r="1.0" fill="#b5122a"/>
<circle cx="283.86" cy="309.53" r="1.0" fill="#b5122a"/>
<circle cx="81" cy="283.42" r="1.0" fill="#2a9a33"/>
<circle cx="85.14" cy="274.27" r="1.0" fill="#2a9a33"/>
<circle cx="89.28" cy="267.16" r="1.0" fill="#2a9a33"/>
<circle cx="93.42" cy="265.32" r="1.0" fill="#2a9a33"/>
<circle cx="97.56" cy="268.83" r="1.0" fill="#2a9a33"/>
<circle cx="101.7" cy="273.88" r="1.0" fill="#2a9a33"/>
<circle cx="105.84" cy="275.32" r="1.0" fill="#2a9a33"/>
<circle cx="109.98" cy="278" r="1.0" fill="#2a9a33"/>
<circle cx="114.12" cy="279.57" r="1.0" fill="#2a9a33"/>
<circle cx="118.26" cy="283.06" r="1.0" fill="#2a9a33"/>
<circle cx="122.4" cy="284.16" r="1.0" fill="#2a9a33"/>
<circle cx="126.54" cy="287.31" r="1.0" fill="#2a9a33"/>
<circle cx="130.68" cy="288.41" r="1.0" fill="#2a9a33"/>
<circle cx="134.82" cy="290.05" r="1.0" fill="#2a9a33"/>
<circle cx="138.96" cy="293.17" r="1.0" fill="#2a9a33"/>
<circle cx="143.1" cy="293.55" r="1.0" fill="#2a9a33"/>
<circle cx="147.24" cy="294.11" r="1.0" fill="#2a9a33"/>
<circle cx="151.38" cy="295.34" r="1.0" fill="#2a9a33"/>
<circle cx="155.52" cy="295.12" r="1.0" fill="#2a9a33"/>
<circle cx="159.66" cy="295.69" r="1.0" fill="#2a9a33"/>
<circle cx="163.8" cy="296.6" r="1.0" fill="#2a9a33"/>
<circle cx="167.94" cy="297.33" r="1.0" fill="#2a9a33"/>
<circle cx="172.08" cy="298.29" r="1.0" fill="#2a9a33"/>
<circle cx="176.22" cy="299.01" r="1.0" fill="#2a9a33"/>
<circle cx="180.36" cy="299.18" r="1.0" fill="#2a9a33"/>
<circle cx="184.5" cy="299.53" r="1.0" fill="#2a9a33"/>
<circle cx="188.64" cy="299.74" r="1.0" fill="#2a9a33"/>
<circle cx="192.78" cy="299.8" r="1.0" fill="#2a9a33"/>
<circle cx="196.92" cy="299.37" r="1.0" fill="#2a9a33"/>
<circle cx="201.06" cy="299.74" r="1.0" fill="#2a9a33"/>
<circle cx="205.2" cy="300.53" r="1.0" fill="#2a9a33"/>
<circle cx="209.34" cy="299.98" r="1.0" fill="#2a9a33"/>
<circle cx="213.48" cy="300.31" r="1.0" fill="#2a9a33"/>
<circle cx="217.62" cy="299.69" r="1.0" fill="#2a9a33"/>
<circle cx="221.76" cy="299.9" r="1.0" fill="#2a9a33"/>
<circle cx="225.9" cy="300.65" r="1.0" fill="#2a9a33"/>
<circle cx="230.04" cy="300.36" r="1.0" fill="#2a9a33"/>
<circle cx="234.18" cy="300.86" r="1.0" fill="#2a9a33"/>
<circle cx="238.32" cy="300.45" r="1.0" fill="#2a9a33"/>
<circle cx="242.46" cy="300.24" r="1.0" fill="#2a9a33"/>
<circle cx="246.6" cy="300.02" r="1.0" fill="#2a9a33"/>
<circle cx="250.74" cy="299.92" r="1.0" fill="#2a9a33"/>
<circle cx="254.88" cy="300.09" r="1.0" fill="#2a9a33"/>
<circle cx="259.02" cy="300.3" r="1.0" fill="#2a9a33"/>
<circle cx="263.16" cy="299.63" r="1.0" fill="#2a9a33"/>
<circle cx="267.3" cy="299.89" r="1.0" fill="#2a9a33"/>
<circle cx="271.44" cy="298.75" r="1.0" fill="#2a9a33"/>
<circle cx="275.58" cy="298.54" r="1.0" fill="#2a9a33"/>
<circle cx="279.72" cy="298.41" r="1.0" fill="#2a9a33"/>
<circle cx="283.86" cy="299.27" r="1.0" fill="#2a9a33"/>
<circle cx="81" cy="280.72" r="1.0" fill="#48154f"/>
<circle cx="85.14" cy="262.74" r="1.0" fill="#48154f"/>
<circle cx="89.28" cy="249.22" r="1.0" fill="#48154f"/>
<circle cx="93.42" cy="245.28" r="1.0" fill="#48154f"/>
<circle cx="97.56" cy="247.06" r="1.0" fill="#48154f"/>
<circle cx="101.7" cy="250.91" r="1.0" fill="#48154f"/>
<circle cx="105.84" cy="254.72" r="1.0" fill="#48154f"/>
<circle cx="109.98" cy="256.83" r="1.0" fill="#48154f"/>
<circle cx="114.12" cy="260.06" r="1.0" fill="#48154f"/>
<circle cx="118.26" cy="262.96" r="1.0" fill="#48154f"/>
<circle cx="122.4" cy="266.18" r="1.0" fill="#48154f"/>
<circle cx="126.54" cy="268.09" r="1.0" fill="#48154f"/>
<circle cx="130.68" cy="269" r="1.0" fill="#48154f"/>
<circle cx="134.82" cy="271.31" r="1.0" fill="#48154f"/>
<circle cx="138.96" cy="273.22" r="1.0" fill="#48154f"/>
<circle cx="143.1" cy="276.06" r="1.0" fill="#48154f"/>
<circle cx="147.24" cy="277.34" r="1.0" fill="#48154f"/>
<circle cx="151.38" cy="277.86" r="1.0" fill="#48154f"/>
<circle cx="155.52" cy="279.35" r="1.0" fill="#48154f"/>
<circle cx="159.66" cy="279.26" r="1.0" fill="#48154f"/>
<circle cx="163.8" cy="280.09" r="1.0" fill="#48154f"/>
<circle cx="167.94" cy="281.25" r="1.0" fill="#48154f"/>
<circle cx="172.08" cy="280.97" r="1.0" fill="#48154f"/>
<circle cx="176.22" cy="282" r="1.0" fill="#48154f"/>
<circle cx="180.36" cy="282.91" r="1.0" fill="#48154f"/>
<circle cx="184.5" cy="283.88" r="1.0" fill="#48154f"/>
<circle cx="188.64" cy="283.56" r="1.0" fill="#48154f"/>
<circle cx="192.78" cy="283.71" r="1.0" fill="#48154f"/>
<circle cx="196.92" cy="284.06" r="1.0" fill="#48154f"/>
<circle cx="201.06" cy="285.64" r="1.0" fill="#48154f"/>
<circle cx="205.2" cy="285.9" r="1.0" fill="#48154f"/>
<circle cx="209.34" cy="285.7" r="1.0" fill="#48154f"/>
<circle cx="213.48" cy="285.6" r="1.0" fill="#48154f"/>
<circle cx="217.62" cy="286.1" r="1.0" fill="#48154f"/>
<circle cx="221.76" cy="285.57" r="1.0" fill="#48154f"/>
<circle cx="225.9" cy="284.94" r="1.0" fill="#48154f"/>
<circle cx="230.04" cy="285.9" r="1.0" fill="#48154f"/>
<circle cx="234.18" cy="286.21" r="1.0" fill="#48154f"/>
<circle cx="238.32" cy="285.54" r="1.0" fill="#48154f"/>
<circle cx="242.46" cy="284.99" r="1.0" fill="#48154f"/>
<circle cx="246.6" cy="285.25" r="1.0" fill="#48154f"/>
<circle cx="250.74" cy="285.09" r="1.0" fill="#48154f"/>
<circle cx="254.88" cy="285.21" r="1.0" fill="#48154f"/>
<circle cx="259.02" cy="285.63" r="1.0" fill="#48154f"/>
<circle cx="263.16" cy="285.13" r="1.0" fill="#48154f"/>
<circle cx="267.3" cy="285.88" r="1.0" fill="#48154f"/>
<circle cx="271.44" cy="286.4" r="1.0" fill="#48154f"/>
<circle cx="275.58" cy="285.79" r="1.0" fill="#48154f"/>
<circle cx="279.72" cy="286.18" r="1.0" fill="#48154f"/>
<circle cx="283.86" cy="287.4" r="1.0" fill="#48154f"/>
<line x1="79.7" y1="333.5" x2="80.8" y2="284" stroke="#7a7088" stroke-width="0.9" />
<text x="59.8" y="310.6" font-size="5.0" text-anchor="start" font-weight="normal" fill="#333" stroke="#333" stroke-width="0.05" textLength="18.6" lengthAdjust="spacingAndGlyphs" >+CXCL12</text>
<line x1="75.2" y1="313.8" x2="75.2" y2="329.5" stroke="#111" stroke-width="0.8" />
<polygon points="73.6,328.2 76.8,328.2 75.2,332.2" fill="#111"/>
<circle cx="287.6" cy="282" r="0.55" fill="#555"/>
<circle cx="289.6" cy="282" r="0.55" fill="#555"/>
<circle cx="288.6" cy="302.8" r="0.55" fill="#555"/>
<circle cx="288.3" cy="314" r="0.55" fill="#555"/>
<line x1="297.3" y1="285.8" x2="308.8" y2="285.8" stroke="#5bbde8" stroke-width="0.9" />
<circle cx="303" cy="285.8" r="1.1" fill="#5bbde8"/>
<text x="312" y="288.6" font-size="8.0" text-anchor="start" font-weight="normal" fill="#111111" stroke="#111111" stroke-width="0.24" >WT</text>
<line x1="297.3" y1="296.8" x2="308.8" y2="296.8" stroke="#c8233f" stroke-width="0.9" />
<circle cx="303" cy="296.8" r="1.1" fill="#c8233f"/>
<text x="312" y="299.6" font-size="8.0" text-anchor="start" font-weight="normal" fill="#111111" stroke="#111111" stroke-width="0.24" >V320EfsX23</text>
<line x1="297.3" y1="307.6" x2="308.8" y2="307.6" stroke="#4e1d5c" stroke-width="0.9" />
<circle cx="303" cy="307.6" r="1.1" fill="#4e1d5c"/>
<text x="312" y="310.4" font-size="8.0" text-anchor="start" font-weight="normal" fill="#111111" stroke="#111111" stroke-width="0.24" >S319CfsX24</text>
<line x1="297.3" y1="318.4" x2="308.8" y2="318.4" stroke="#3aa842" stroke-width="0.9" />
<circle cx="303" cy="318.4" r="1.1" fill="#3aa842"/>
<text x="312" y="321.2" font-size="8.0" text-anchor="start" font-weight="normal" fill="#111111" stroke="#111111" stroke-width="0.24" >R334X</text>
<line x1="297.3" y1="329.2" x2="308.8" y2="329.2" stroke="#cfcfd4" stroke-width="0.9" />
<circle cx="303" cy="329.2" r="1.1" fill="#cfcfd4"/>
<text x="312" y="332" font-size="8.0" text-anchor="start" font-weight="normal" fill="#111111" stroke="#111111" stroke-width="0.24" >S338X</text>
<text x="373" y="218.1" font-size="11.2" text-anchor="start" font-weight="bold" fill="#111" stroke="#111" stroke-width="0.1" textLength="9.06" lengthAdjust="spacingAndGlyphs" >D</text>
<line x1="429.4" y1="225.5" x2="429.4" y2="334.2" stroke="#1e1e1e" stroke-width="1.1" />
<line x1="426.2" y1="333.7" x2="429.4" y2="333.7" stroke="#1e1e1e" stroke-width="0.9" />
<text x="422.8" y="336.1" font-size="7.8" text-anchor="end" font-weight="normal" fill="#111111" stroke="#111111" stroke-width="0.24" textLength="4.68" lengthAdjust="spacingAndGlyphs" >0</text>
<line x1="426.2" y1="307.35" x2="429.4" y2="307.35" stroke="#1e1e1e" stroke-width="0.9" />
<text x="400.3" y="310.25" font-size="6.6" text-anchor="start" font-weight="normal" fill="#111111" stroke="#111111" stroke-width="0.12" textLength="18.6" lengthAdjust="spacingAndGlyphs" >1×10</text>
<text x="420.1" y="307.15" font-size="4.6" text-anchor="start" font-weight="normal" fill="#111111" stroke="#111111" stroke-width="0.1" >5</text>
<line x1="426.2" y1="281" x2="429.4" y2="281" stroke="#1e1e1e" stroke-width="0.9" />
<text x="400.3" y="283.9" font-size="6.6" text-anchor="start" font-weight="normal" fill="#111111" stroke="#111111" stroke-width="0.12" textLength="18.6" lengthAdjust="spacingAndGlyphs" >2×10</text>
<text x="420.1" y="280.8" font-size="4.6" text-anchor="start" font-weight="normal" fill="#111111" stroke="#111111" stroke-width="0.1" >5</text>
<line x1="426.2" y1="254.65" x2="429.4" y2="254.65" stroke="#1e1e1e" stroke-width="0.9" />
<text x="400.3" y="257.55" font-size="6.6" text-anchor="start" font-weight="normal" fill="#111111" stroke="#111111" stroke-width="0.12" textLength="18.6" lengthAdjust="spacingAndGlyphs" >3×10</text>
<text x="420.1" y="254.45" font-size="4.6" text-anchor="start" font-weight="normal" fill="#111111" stroke="#111111" stroke-width="0.1" >5</text>
<line x1="426.2" y1="228.3" x2="429.4" y2="228.3" stroke="#1e1e1e" stroke-width="0.9" />
<text x="400.3" y="231.2" font-size="6.6" text-anchor="start" font-weight="normal" fill="#111111" stroke="#111111" stroke-width="0.12" textLength="18.6" lengthAdjust="spacingAndGlyphs" >4×10</text>
<text x="420.1" y="228.1" font-size="4.6" text-anchor="start" font-weight="normal" fill="#111111" stroke="#111111" stroke-width="0.1" >5</text>
<text transform="translate(394.8,279.4) rotate(-90)" font-size="9.2" text-anchor="middle" font-weight="normal" fill="#1c1c1c" stroke="#1c1c1c" stroke-width="0.24" textLength="60.4" lengthAdjust="spacingAndGlyphs" >Ca++ release (AUC)</text>
<rect x="436.5" y="315.29" width="10.6" height="18.41" fill="#29a6dc" stroke="#2188b4" stroke-width="0.6"/>
<rect x="451.3" y="302.91" width="10.6" height="30.79" fill="#bb0a2e" stroke="#990825" stroke-width="0.6"/>
<rect x="466.2" y="288.15" width="10.6" height="45.55" fill="#5e1f6e" stroke="#4d195a" stroke-width="0.6"/>
<rect x="481" y="300.67" width="10.6" height="33.03" fill="#34a83a" stroke="#2a892f" stroke-width="0.6"/>
<rect x="495.8" y="291.05" width="10.6" height="42.65" fill="#c6c5cb" stroke="#a2a1a6" stroke-width="0.6"/>
<line x1="441.8" y1="318.42" x2="441.8" y2="311.3" stroke="#2a2a2a" stroke-width="0.85" />
<line x1="439.2" y1="311.3" x2="444.4" y2="311.3" stroke="#2a2a2a" stroke-width="0.85" />
<line x1="439.2" y1="318.42" x2="444.4" y2="318.42" stroke="#2a2a2a" stroke-width="0.85" />
<line x1="456.6" y1="306.56" x2="456.6" y2="298.65" stroke="#2a2a2a" stroke-width="0.85" />
<line x1="454" y1="298.65" x2="459.2" y2="298.65" stroke="#2a2a2a" stroke-width="0.85" />
<line x1="454" y1="306.56" x2="459.2" y2="306.56" stroke="#2a2a2a" stroke-width="0.85" />
<line x1="471.5" y1="287.85" x2="471.5" y2="277.05" stroke="#2a2a2a" stroke-width="0.85" />
<line x1="468.9" y1="277.05" x2="474.1" y2="277.05" stroke="#2a2a2a" stroke-width="0.85" />
<line x1="486.3" y1="308.93" x2="486.3" y2="290.22" stroke="#2a2a2a" stroke-width="0.85" />
<line x1="483.7" y1="290.22" x2="488.9" y2="290.22" stroke="#2a2a2a" stroke-width="0.85" />
<line x1="483.7" y1="308.93" x2="488.9" y2="308.93" stroke="#2a2a2a" stroke-width="0.85" />
<line x1="501.1" y1="302.08" x2="501.1" y2="279.16" stroke="#2a2a2a" stroke-width="0.85" />
<line x1="498.5" y1="279.16" x2="503.7" y2="279.16" stroke="#2a2a2a" stroke-width="0.85" />
<line x1="498.5" y1="302.08" x2="503.7" y2="302.08" stroke="#2a2a2a" stroke-width="0.85" />
<line x1="429.4" y1="333.7" x2="513.5" y2="333.7" stroke="#1e1e1e" stroke-width="1.2" />
<line x1="441.8" y1="333.7" x2="441.8" y2="336.1" stroke="#1e1e1e" stroke-width="0.8" />
<line x1="456.6" y1="333.7" x2="456.6" y2="336.1" stroke="#1e1e1e" stroke-width="0.8" />
<line x1="471.5" y1="333.7" x2="471.5" y2="336.1" stroke="#1e1e1e" stroke-width="0.8" />
<line x1="486.3" y1="333.7" x2="486.3" y2="336.1" stroke="#1e1e1e" stroke-width="0.8" />
<line x1="501.1" y1="333.7" x2="501.1" y2="336.1" stroke="#1e1e1e" stroke-width="0.8" />
<circle cx="441.8" cy="306.2" r="1.75" fill="#fff" stroke="#3a3a3a" stroke-width="0.85"/>
<circle cx="441.8" cy="313.5" r="1.75" fill="#fff" stroke="#3a3a3a" stroke-width="0.85"/>
<circle cx="441.8" cy="318" r="1.75" fill="#fff" stroke="#3a3a3a" stroke-width="0.85"/>
<circle cx="441.8" cy="320.2" r="1.75" fill="#fff" stroke="#3a3a3a" stroke-width="0.85"/>
<circle cx="441.8" cy="325.4" r="1.75" fill="#fff" stroke="#3a3a3a" stroke-width="0.85"/>
<circle cx="456.6" cy="292.3" r="1.75" fill="#fff" stroke="#3a3a3a" stroke-width="0.85"/>
<circle cx="456.6" cy="298.5" r="1.75" fill="#fff" stroke="#3a3a3a" stroke-width="0.85"/>
<circle cx="456.6" cy="300.5" r="1.75" fill="#fff" stroke="#3a3a3a" stroke-width="0.85"/>
<circle cx="456.6" cy="302.5" r="1.75" fill="#fff" stroke="#3a3a3a" stroke-width="0.85"/>
<circle cx="456.6" cy="306" r="1.75" fill="#fff" stroke="#3a3a3a" stroke-width="0.85"/>
<circle cx="456.6" cy="312.1" r="1.75" fill="#fff" stroke="#3a3a3a" stroke-width="0.85"/>
<circle cx="471.5" cy="241.9" r="1.75" fill="#fff" stroke="#3a3a3a" stroke-width="0.85"/>
<circle cx="471.5" cy="285.9" r="1.75" fill="#fff" stroke="#3a3a3a" stroke-width="0.85"/>
<circle cx="471.5" cy="292.9" r="1.75" fill="#fff" stroke="#3a3a3a" stroke-width="0.85"/>
<circle cx="471.5" cy="305.3" r="1.75" fill="#fff" stroke="#3a3a3a" stroke-width="0.85"/>
<circle cx="471.5" cy="307.6" r="1.75" fill="#fff" stroke="#3a3a3a" stroke-width="0.85"/>
<circle cx="486.3" cy="263.3" r="1.75" fill="#fff" stroke="#3a3a3a" stroke-width="0.85"/>
<circle cx="486.3" cy="285.1" r="1.75" fill="#fff" stroke="#3a3a3a" stroke-width="0.85"/>
<circle cx="486.3" cy="301.4" r="1.75" fill="#fff" stroke="#3a3a3a" stroke-width="0.85"/>
<circle cx="486.3" cy="322.8" r="1.75" fill="#fff" stroke="#3a3a3a" stroke-width="0.85"/>
<circle cx="486.3" cy="325.2" r="1.75" fill="#fff" stroke="#3a3a3a" stroke-width="0.85"/>
<circle cx="501.1" cy="240.3" r="1.75" fill="#fff" stroke="#3a3a3a" stroke-width="0.85"/>
<circle cx="501.1" cy="282.4" r="1.75" fill="#fff" stroke="#3a3a3a" stroke-width="0.85"/>
<circle cx="501.1" cy="293.8" r="1.75" fill="#fff" stroke="#3a3a3a" stroke-width="0.85"/>
<circle cx="501.1" cy="300.8" r="1.75" fill="#fff" stroke="#3a3a3a" stroke-width="0.85"/>
<circle cx="501.1" cy="310.5" r="1.75" fill="#fff" stroke="#3a3a3a" stroke-width="0.85"/>
<circle cx="456.6" cy="285.8" r="1.0" fill="#222"/>
<circle cx="471.5" cy="236" r="1.0" fill="#222"/>
<circle cx="501.1" cy="234.4" r="1.0" fill="#222"/>
<text transform="translate(442.8,346.7) rotate(-45)" font-size="8.0" text-anchor="end" font-weight="normal" fill="#111111" stroke="#111111" stroke-width="0.24" >WT</text>
<text transform="translate(457.6,346.7) rotate(-45)" font-size="8.0" text-anchor="end" font-weight="normal" fill="#111111" stroke="#111111" stroke-width="0.24" >V320EfsX23</text>
<text transform="translate(472.5,346.7) rotate(-45)" font-size="8.0" text-anchor="end" font-weight="normal" fill="#111111" stroke="#111111" stroke-width="0.24" >S319CfsX24</text>
<text transform="translate(487.3,346.7) rotate(-45)" font-size="8.0" text-anchor="end" font-weight="normal" fill="#111111" stroke="#111111" stroke-width="0.24" >R334X</text>
<text transform="translate(502.1,346.7) rotate(-45)" font-size="8.0" text-anchor="end" font-weight="normal" fill="#111111" stroke="#111111" stroke-width="0.24" >S338X</text>
<text x="7.9" y="404.8" font-size="11.2" text-anchor="start" font-weight="bold" fill="#111" stroke="#111" stroke-width="0.1" textLength="8.37" lengthAdjust="spacingAndGlyphs" >E</text>
<line x1="43.5" y1="412.6" x2="43.5" y2="515.3" stroke="#1e1e1e" stroke-width="1.1" />
<line x1="40.3" y1="514.8" x2="43.5" y2="514.8" stroke="#1e1e1e" stroke-width="0.9" />
<text x="37.8" y="517.2" font-size="7.8" text-anchor="end" font-weight="normal" fill="#111111" stroke="#111111" stroke-width="0.24" textLength="4.68" lengthAdjust="spacingAndGlyphs" >0</text>
<line x1="40.3" y1="489.95" x2="43.5" y2="489.95" stroke="#1e1e1e" stroke-width="0.9" />
<text x="37.8" y="492.35" font-size="7.8" text-anchor="end" font-weight="normal" fill="#111111" stroke="#111111" stroke-width="0.24" textLength="4.68" lengthAdjust="spacingAndGlyphs" >2</text>
<line x1="40.3" y1="465.1" x2="43.5" y2="465.1" stroke="#1e1e1e" stroke-width="0.9" />
<text x="37.8" y="467.5" font-size="7.8" text-anchor="end" font-weight="normal" fill="#111111" stroke="#111111" stroke-width="0.24" textLength="4.68" lengthAdjust="spacingAndGlyphs" >4</text>
<line x1="40.3" y1="440.25" x2="43.5" y2="440.25" stroke="#1e1e1e" stroke-width="0.9" />
<text x="37.8" y="442.65" font-size="7.8" text-anchor="end" font-weight="normal" fill="#111111" stroke="#111111" stroke-width="0.24" textLength="4.68" lengthAdjust="spacingAndGlyphs" >6</text>
<line x1="40.3" y1="415.4" x2="43.5" y2="415.4" stroke="#1e1e1e" stroke-width="0.9" />
<text x="37.8" y="417.8" font-size="7.8" text-anchor="end" font-weight="normal" fill="#111111" stroke="#111111" stroke-width="0.24" textLength="4.68" lengthAdjust="spacingAndGlyphs" >8</text>
<text transform="translate(26.4,463) rotate(-90)" font-size="9.2" text-anchor="middle" font-weight="normal" fill="#1c1c1c" stroke="#1c1c1c" stroke-width="0.24" textLength="80.8" lengthAdjust="spacingAndGlyphs" >Fold of migrated cells (5h)</text>
<line x1="43.5" y1="504.6" x2="143" y2="504.6" stroke="#cfcfcf" stroke-width="0.8" />
<rect x="50.2" y="501.81" width="11.7" height="12.99" fill="#29a6dc" stroke="#2188b4" stroke-width="0.6"/>
<rect x="68.8" y="493.48" width="11.7" height="21.32" fill="#bb0a2e" stroke="#990825" stroke-width="0.6"/>
<rect x="87.4" y="472.23" width="11.7" height="42.57" fill="#5e1f6e" stroke="#4d195a" stroke-width="0.6"/>
<rect x="106.35" y="497.58" width="11.7" height="17.22" fill="#34a83a" stroke="#2a892f" stroke-width="0.6"/>
<rect x="125" y="498.82" width="11.7" height="15.98" fill="#c6c5cb" stroke="#a2a1a6" stroke-width="0.6"/>
<line x1="74.65" y1="496.66" x2="74.65" y2="489.7" stroke="#555" stroke-width="0.8" />
<line x1="71.85" y1="489.7" x2="77.45" y2="489.7" stroke="#555" stroke-width="0.8" />
<line x1="93.25" y1="483.49" x2="93.25" y2="460.38" stroke="#555" stroke-width="0.8" />
<line x1="90.45" y1="460.38" x2="96.05" y2="460.38" stroke="#555" stroke-width="0.8" />
<line x1="112.2" y1="500.39" x2="112.2" y2="494.17" stroke="#555" stroke-width="0.8" />
<line x1="109.4" y1="494.17" x2="115" y2="494.17" stroke="#555" stroke-width="0.8" />
<line x1="130.85" y1="500.14" x2="130.85" y2="496.91" stroke="#555" stroke-width="0.8" />
<line x1="128.05" y1="496.91" x2="133.65" y2="496.91" stroke="#555" stroke-width="0.8" />
<line x1="43.5" y1="514.8" x2="143.2" y2="514.8" stroke="#1e1e1e" stroke-width="1.2" />
<line x1="56.05" y1="514.8" x2="56.05" y2="517.2" stroke="#1e1e1e" stroke-width="0.8" />
<line x1="74.65" y1="514.8" x2="74.65" y2="517.2" stroke="#1e1e1e" stroke-width="0.8" />
<line x1="93.25" y1="514.8" x2="93.25" y2="517.2" stroke="#1e1e1e" stroke-width="0.8" />
<line x1="112.2" y1="514.8" x2="112.2" y2="517.2" stroke="#1e1e1e" stroke-width="0.8" />
<line x1="130.85" y1="514.8" x2="130.85" y2="517.2" stroke="#1e1e1e" stroke-width="0.8" />
<circle cx="51.65" cy="502.4" r="1.6" fill="#fff" stroke="#7a7a7a" stroke-width="0.7"/>
<circle cx="53.85" cy="502.4" r="1.6" fill="#fff" stroke="#7a7a7a" stroke-width="0.7"/>
<circle cx="56.05" cy="502.4" r="1.6" fill="#fff" stroke="#7a7a7a" stroke-width="0.7"/>
<circle cx="58.25" cy="502.4" r="1.6" fill="#fff" stroke="#7a7a7a" stroke-width="0.7"/>
<circle cx="60.45" cy="502.4" r="1.6" fill="#fff" stroke="#7a7a7a" stroke-width="0.7"/>
<circle cx="74.65" cy="483.5" r="1.6" fill="#fff" stroke="#7a7a7a" stroke-width="0.7"/>
<circle cx="74.65" cy="489.6" r="1.6" fill="#fff" stroke="#7a7a7a" stroke-width="0.7"/>
<circle cx="74.65" cy="493.3" r="1.6" fill="#fff" stroke="#7a7a7a" stroke-width="0.7"/>
<circle cx="74.65" cy="497.4" r="1.6" fill="#fff" stroke="#7a7a7a" stroke-width="0.7"/>
<circle cx="74.65" cy="504.3" r="1.6" fill="#fff" stroke="#7a7a7a" stroke-width="0.7"/>
<circle cx="93.25" cy="433.4" r="1.6" fill="#fff" stroke="#7a7a7a" stroke-width="0.7"/>
<circle cx="93.25" cy="463.8" r="1.6" fill="#fff" stroke="#7a7a7a" stroke-width="0.7"/>
<circle cx="93.25" cy="471.9" r="1.6" fill="#fff" stroke="#7a7a7a" stroke-width="0.7"/>
<circle cx="90.45" cy="494.4" r="1.6" fill="#fff" stroke="#7a7a7a" stroke-width="0.7"/>
<circle cx="96.25" cy="493.8" r="1.6" fill="#fff" stroke="#7a7a7a" stroke-width="0.7"/>
<circle cx="109" cy="491.1" r="1.6" fill="#fff" stroke="#7a7a7a" stroke-width="0.7"/>
<circle cx="115" cy="488.8" r="1.6" fill="#fff" stroke="#7a7a7a" stroke-width="0.7"/>
<circle cx="111.9" cy="497" r="1.6" fill="#fff" stroke="#7a7a7a" stroke-width="0.7"/>
<circle cx="109.2" cy="503.8" r="1.6" fill="#fff" stroke="#7a7a7a" stroke-width="0.7"/>
<circle cx="115.2" cy="503.6" r="1.6" fill="#fff" stroke="#7a7a7a" stroke-width="0.7"/>
<circle cx="131.05" cy="492" r="1.6" fill="#fff" stroke="#7a7a7a" stroke-width="0.7"/>
<circle cx="126.85" cy="499.8" r="1.6" fill="#fff" stroke="#7a7a7a" stroke-width="0.7"/>
<circle cx="129.55" cy="501.8" r="1.6" fill="#fff" stroke="#7a7a7a" stroke-width="0.7"/>
<circle cx="132.45" cy="500.3" r="1.6" fill="#fff" stroke="#7a7a7a" stroke-width="0.7"/>
<circle cx="135.25" cy="500.7" r="1.6" fill="#fff" stroke="#7a7a7a" stroke-width="0.7"/>
<circle cx="74.65" cy="472.6" r="1.0" fill="#222"/>
<circle cx="93.25" cy="428" r="1.0" fill="#222"/>
<text transform="translate(57.85,526.9) rotate(-45)" font-size="8.0" text-anchor="end" font-weight="normal" fill="#111111" stroke="#111111" stroke-width="0.24" >WT</text>
<text transform="translate(76.45,526.9) rotate(-45)" font-size="8.0" text-anchor="end" font-weight="normal" fill="#111111" stroke="#111111" stroke-width="0.24" >V320EfsX23</text>
<text transform="translate(95.05,526.9) rotate(-45)" font-size="8.0" text-anchor="end" font-weight="normal" fill="#111111" stroke="#111111" stroke-width="0.24" >S319CfsX24</text>
<text transform="translate(114,526.9) rotate(-45)" font-size="8.0" text-anchor="end" font-weight="normal" fill="#111111" stroke="#111111" stroke-width="0.24" >R334X</text>
<text transform="translate(132.65,526.9) rotate(-45)" font-size="8.0" text-anchor="end" font-weight="normal" fill="#111111" stroke="#111111" stroke-width="0.24" >S338X</text>
<text x="158.6" y="404.6" font-size="11.2" text-anchor="start" font-weight="bold" fill="#111" stroke="#111" stroke-width="0.1" textLength="7.66" lengthAdjust="spacingAndGlyphs" >F</text>
<line x1="200.4" y1="407.1" x2="200.4" y2="515" stroke="#1e1e1e" stroke-width="1.1" />
<line x1="197.2" y1="514.5" x2="200.4" y2="514.5" stroke="#1e1e1e" stroke-width="0.9" />
<text x="194.4" y="516.9" font-size="7.8" text-anchor="end" font-weight="normal" fill="#111111" stroke="#111111" stroke-width="0.24" textLength="11.71" lengthAdjust="spacingAndGlyphs" >0.8</text>
<line x1="197.2" y1="479.63" x2="200.4" y2="479.63" stroke="#1e1e1e" stroke-width="0.9" />
<text x="194.4" y="482.03" font-size="7.8" text-anchor="end" font-weight="normal" fill="#111111" stroke="#111111" stroke-width="0.24" textLength="11.71" lengthAdjust="spacingAndGlyphs" >1.0</text>
<line x1="197.2" y1="444.77" x2="200.4" y2="444.77" stroke="#1e1e1e" stroke-width="0.9" />
<text x="194.4" y="447.17" font-size="7.8" text-anchor="end" font-weight="normal" fill="#111111" stroke="#111111" stroke-width="0.24" textLength="11.71" lengthAdjust="spacingAndGlyphs" >1.2</text>
<line x1="197.2" y1="409.9" x2="200.4" y2="409.9" stroke="#1e1e1e" stroke-width="0.9" />
<text x="194.4" y="412.3" font-size="7.8" text-anchor="end" font-weight="normal" fill="#111111" stroke="#111111" stroke-width="0.24" textLength="11.71" lengthAdjust="spacingAndGlyphs" >1.4</text>
<text transform="translate(177.9,460.4) rotate(-90)" font-size="9.0" text-anchor="middle" font-weight="normal" fill="#1c1c1c" stroke="#1c1c1c" stroke-width="0.24" textLength="51.5" lengthAdjust="spacingAndGlyphs" >pAKT fold change</text>
<line x1="200.4" y1="479.63" x2="347.5" y2="479.63" stroke="#9a9a9a" stroke-width="0.8" stroke-dasharray="0.9,1.2"/>
<line x1="200.4" y1="514.5" x2="347.7" y2="514.5" stroke="#1e1e1e" stroke-width="1.2" />
<line x1="219.6" y1="514.5" x2="219.6" y2="516.9" stroke="#1e1e1e" stroke-width="0.8" />
<text x="219.6" y="528.2" font-size="7.8" text-anchor="middle" font-weight="normal" fill="#111111" stroke="#111111" stroke-width="0.24" textLength="4.51" lengthAdjust="spacingAndGlyphs" >0</text>
<line x1="249.4" y1="514.5" x2="249.4" y2="516.9" stroke="#1e1e1e" stroke-width="0.8" />
<text x="249.4" y="528.2" font-size="7.8" text-anchor="middle" font-weight="normal" fill="#111111" stroke="#111111" stroke-width="0.24" textLength="4.51" lengthAdjust="spacingAndGlyphs" >5</text>
<line x1="278.9" y1="514.5" x2="278.9" y2="516.9" stroke="#1e1e1e" stroke-width="0.8" />
<text x="278.9" y="528.2" font-size="7.8" text-anchor="middle" font-weight="normal" fill="#111111" stroke="#111111" stroke-width="0.24" textLength="9.02" lengthAdjust="spacingAndGlyphs" >10</text>
<line x1="308.2" y1="514.5" x2="308.2" y2="516.9" stroke="#1e1e1e" stroke-width="0.8" />
<text x="308.2" y="528.2" font-size="7.8" text-anchor="middle" font-weight="normal" fill="#111111" stroke="#111111" stroke-width="0.24" textLength="9.02" lengthAdjust="spacingAndGlyphs" >20</text>
<line x1="337.6" y1="514.5" x2="337.6" y2="516.9" stroke="#1e1e1e" stroke-width="0.8" />
<text x="337.6" y="528.2" font-size="7.8" text-anchor="middle" font-weight="normal" fill="#111111" stroke="#111111" stroke-width="0.24" textLength="9.02" lengthAdjust="spacingAndGlyphs" >30</text>
<text x="274.2" y="540.7" font-size="9.0" text-anchor="middle" font-weight="normal" fill="#111111" stroke="#111111" stroke-width="0.25" textLength="33.5" lengthAdjust="spacingAndGlyphs" >Time (min)</text>
<line x1="249.4" y1="455.23" x2="249.4" y2="450.87" stroke="#d5d5da" stroke-width="0.9" />
<line x1="246.8" y1="450.87" x2="252" y2="450.87" stroke="#d5d5da" stroke-width="0.9" />
<line x1="337.6" y1="467.43" x2="337.6" y2="465.69" stroke="#d5d5da" stroke-width="0.9" />
<line x1="335" y1="465.69" x2="340.2" y2="465.69" stroke="#d5d5da" stroke-width="0.9" />
<line x1="249.4" y1="479.63" x2="249.4" y2="469.7" stroke="#8fd0ee" stroke-width="0.9" />
<line x1="246.8" y1="469.7" x2="252" y2="469.7" stroke="#8fd0ee" stroke-width="0.9" />
<line x1="249.4" y1="465.69" x2="249.4" y2="458.71" stroke="#8a6a94" stroke-width="0.9" />
<line x1="246.8" y1="458.71" x2="252" y2="458.71" stroke="#8a6a94" stroke-width="0.9" />
<line x1="337.6" y1="498.81" x2="337.6" y2="488.35" stroke="#8a6a94" stroke-width="0.9" />
<line x1="335" y1="488.35" x2="340.2" y2="488.35" stroke="#8a6a94" stroke-width="0.9" />
<line x1="249.4" y1="443.72" x2="249.4" y2="434.66" stroke="#c8283f" stroke-width="0.9" />
<line x1="246.8" y1="434.66" x2="252" y2="434.66" stroke="#c8283f" stroke-width="0.9" />
<line x1="278.9" y1="443.37" x2="278.9" y2="435.18" stroke="#c8283f" stroke-width="0.9" />
<line x1="276.3" y1="435.18" x2="281.5" y2="435.18" stroke="#c8283f" stroke-width="0.9" />
<line x1="308.2" y1="456.27" x2="308.2" y2="443.37" stroke="#c8283f" stroke-width="0.9" />
<line x1="305.6" y1="443.37" x2="310.8" y2="443.37" stroke="#c8283f" stroke-width="0.9" />
<polyline points="219.6,479.63 249.4,455.23 278.9,460.98 308.2,478.41 337.6,467.43" fill="none" stroke="#c9c9cf" stroke-width="1.3"/>
<polyline points="219.6,479.63 249.4,479.63 278.9,467.95 308.2,468.3 337.6,478.41" fill="none" stroke="#29a6dc" stroke-width="1.3"/>
<polyline points="219.6,479.63 249.4,452.26 278.9,451.39 308.2,465.69 337.6,465.69" fill="none" stroke="#34a83a" stroke-width="1.3"/>
<polyline points="219.6,479.63 249.4,465.69 278.9,454.53 308.2,466.73 337.6,498.81" fill="none" stroke="#4d1f58" stroke-width="1.3"/>
<polyline points="219.6,479.63 249.4,443.72 278.9,443.37 308.2,456.27 337.6,458.02" fill="none" stroke="#bb0a2e" stroke-width="1.3"/>
<polygon points="219.6,482.68 222.5,477.46 216.7,477.46" fill="#c9c9cf"/>
<polygon points="249.4,458.27 252.3,453.05 246.5,453.05" fill="#c9c9cf"/>
<polygon points="278.9,464.02 281.8,458.8 276,458.8" fill="#c9c9cf"/>
<polygon points="308.2,481.46 311.1,476.24 305.3,476.24" fill="#c9c9cf"/>
<polygon points="337.6,470.48 340.5,465.25 334.7,465.25" fill="#c9c9cf"/>
<circle cx="219.6" cy="479.63" r="2.8" fill="#29a6dc"/>
<circle cx="249.4" cy="479.63" r="2.8" fill="#29a6dc"/>
<circle cx="278.9" cy="467.95" r="2.8" fill="#29a6dc"/>
<circle cx="308.2" cy="468.3" r="2.8" fill="#29a6dc"/>
<circle cx="337.6" cy="478.41" r="2.8" fill="#29a6dc"/>
<polygon points="219.6,476.59 222.5,481.81 216.7,481.81" fill="#34a83a"/>
<polygon points="249.4,449.22 252.3,454.44 246.5,454.44" fill="#34a83a"/>
<polygon points="278.9,448.35 281.8,453.57 276,453.57" fill="#34a83a"/>
<polygon points="308.2,462.64 311.1,467.86 305.3,467.86" fill="#34a83a"/>
<polygon points="337.6,462.64 340.5,467.86 334.7,467.86" fill="#34a83a"/>
<polygon points="219.6,476.83 222.12,479.63 219.6,482.43 217.08,479.63" fill="#4d1f58"/>
<polygon points="249.4,462.89 251.92,465.69 249.4,468.49 246.88,465.69" fill="#4d1f58"/>
<polygon points="278.9,451.73 281.42,454.53 278.9,457.33 276.38,454.53" fill="#4d1f58"/>
<polygon points="308.2,463.93 310.72,466.73 308.2,469.53 305.68,466.73" fill="#4d1f58"/>
<polygon points="337.6,496.01 340.12,498.81 337.6,501.61 335.08,498.81" fill="#4d1f58"/>
<rect x="216.8" y="476.83" width="5.6" height="5.6" fill="#bb0a2e"/>
<rect x="246.6" y="440.92" width="5.6" height="5.6" fill="#bb0a2e"/>
<rect x="276.1" y="440.57" width="5.6" height="5.6" fill="#bb0a2e"/>
<rect x="305.4" y="453.47" width="5.6" height="5.6" fill="#bb0a2e"/>
<rect x="334.8" y="455.22" width="5.6" height="5.6" fill="#bb0a2e"/>
<rect x="216.8" y="476.83" width="5.6" height="5.6" fill="#8a3a5e" stroke="#5a1f48" stroke-width="0.8"/>
<circle cx="249.4" cy="430.2" r="1.0" fill="#6a1020"/>
<circle cx="279" cy="430.9" r="1.0" fill="#6a1020"/>
<circle cx="337.6" cy="449.2" r="1.0" fill="#6a1020"/>
<line x1="352.9" y1="455.4" x2="363.6" y2="455.4" stroke="#29a6dc" stroke-width="0.9" />
<circle cx="358.3" cy="455.4" r="2.8" fill="#29a6dc"/>
<text x="367.1" y="458.2" font-size="8.0" text-anchor="start" font-weight="normal" fill="#111111" stroke="#111111" stroke-width="0.24" >WT</text>
<line x1="352.9" y1="466.3" x2="363.6" y2="466.3" stroke="#bb0a2e" stroke-width="0.9" />
<rect x="355.5" y="463.5" width="5.6" height="5.6" fill="#bb0a2e"/>
<text x="367.1" y="469.1" font-size="8.0" text-anchor="start" font-weight="normal" fill="#111111" stroke="#111111" stroke-width="0.24" >V320EfsX23</text>
<line x1="352.9" y1="477.2" x2="363.6" y2="477.2" stroke="#4d1f58" stroke-width="0.9" />
<polygon points="358.3,474.4 360.82,477.2 358.3,480 355.78,477.2" fill="#4d1f58"/>
<text x="367.1" y="480" font-size="8.0" text-anchor="start" font-weight="normal" fill="#111111" stroke="#111111" stroke-width="0.24" >S319CfsX24</text>
<line x1="352.9" y1="488" x2="363.6" y2="488" stroke="#34a83a" stroke-width="0.9" />
<polygon points="358.3,485.06 361.1,490.1 355.5,490.1" fill="#34a83a"/>
<text x="367.1" y="490.8" font-size="8.0" text-anchor="start" font-weight="normal" fill="#111111" stroke="#111111" stroke-width="0.24" >R334X</text>
<line x1="352.9" y1="498.7" x2="363.6" y2="498.7" stroke="#cfcfd4" stroke-width="0.9" />
<polygon points="358.3,501.64 361.1,496.6 355.5,496.6" fill="#cfcfd4"/>
<text x="367.1" y="501.5" font-size="8.0" text-anchor="start" font-weight="normal" fill="#111111" stroke="#111111" stroke-width="0.24" >S338X</text>
</g>
<rect x="0.5" y="0.5" width="519" height="564" fill="none" stroke="#555" stroke-width="1"/>
<line x1="519.5" y1="0" x2="519.5" y2="565" stroke="#333" stroke-width="1"/>
<line x1="0" y1="564.5" x2="520" y2="564.5" stroke="#333" stroke-width="1"/>
</svg></div></body></html>
